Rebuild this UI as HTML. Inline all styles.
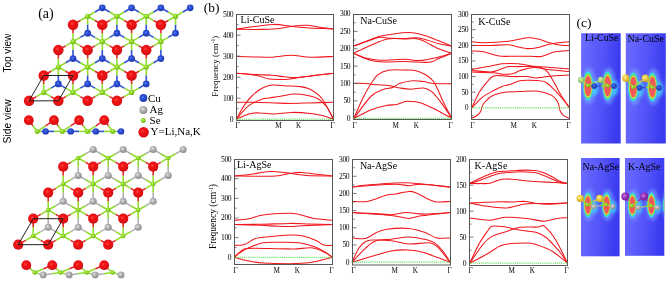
<!DOCTYPE html>
<html><head><meta charset="utf-8"><style>html,body{margin:0;padding:0;background:#fff;overflow:hidden}svg{display:block} text{opacity:0.999}</style></head>
<body><svg width="668" height="282" viewBox="0 0 668 282"><defs>
<radialGradient id="gR" cx="0.42" cy="0.4" r="0.62"><stop offset="0" stop-color="#ff4848"/><stop offset="0.3" stop-color="#f01414"/><stop offset="0.85" stop-color="#dc1014"/><stop offset="1" stop-color="#c00c10"/></radialGradient>
<radialGradient id="gB" cx="0.42" cy="0.4" r="0.62"><stop offset="0" stop-color="#5a7af0"/><stop offset="0.35" stop-color="#2c50d4"/><stop offset="1" stop-color="#2038b0"/></radialGradient>
<radialGradient id="gG" cx="0.4" cy="0.38" r="0.65"><stop offset="0" stop-color="#c8f070"/><stop offset="0.45" stop-color="#8ed824"/><stop offset="1" stop-color="#6cb414"/></radialGradient>
<radialGradient id="gA" cx="0.4" cy="0.38" r="0.65"><stop offset="0" stop-color="#e0e0e2"/><stop offset="0.45" stop-color="#b0b0b3"/><stop offset="1" stop-color="#8a8a8e"/></radialGradient>
<radialGradient id="gL" cx="0.4" cy="0.38" r="0.65"><stop offset="0" stop-color="#d8f0b8"/><stop offset="0.45" stop-color="#a8d880"/><stop offset="1" stop-color="#80b060"/></radialGradient>
<radialGradient id="gY" cx="0.4" cy="0.38" r="0.65"><stop offset="0" stop-color="#fff0a0"/><stop offset="0.45" stop-color="#f0cc40"/><stop offset="1" stop-color="#c8a020"/></radialGradient>
<radialGradient id="gP" cx="0.4" cy="0.38" r="0.65"><stop offset="0" stop-color="#d080e0"/><stop offset="0.45" stop-color="#9a30b8"/><stop offset="1" stop-color="#702090"/></radialGradient>
<linearGradient id="panel" x1="0" y1="0" x2="1" y2="0.15"><stop offset="0" stop-color="#6c6cff"/><stop offset="0.6" stop-color="#5252f8"/><stop offset="1" stop-color="#3a3af0"/></linearGradient>
<radialGradient id="blob" cx="0.5" cy="0.5" r="0.5">
 <stop offset="0" stop-color="#f25050"/><stop offset="0.46" stop-color="#f25050"/>
 <stop offset="0.53" stop-color="#f0a030"/><stop offset="0.58" stop-color="#c8e040"/>
 <stop offset="0.66" stop-color="#40e0a0"/><stop offset="0.76" stop-color="#30c8f8"/>
 <stop offset="0.88" stop-color="#5c9cff" stop-opacity="0.8"/><stop offset="1" stop-color="#5a6aff" stop-opacity="0"/>
</radialGradient>
<filter id="bl2" x="-1" y="-1" width="3" height="3"><feGaussianBlur stdDeviation="1.8"/></filter><filter id="bl1" x="-1" y="-1" width="3" height="3"><feGaussianBlur stdDeviation="0.55"/></filter>
<radialGradient id="tail" cx="0.5" cy="0.5" r="0.5">
 <stop offset="0" stop-color="#40c8ff" stop-opacity="0.9"/><stop offset="0.5" stop-color="#50a8ff" stop-opacity="0.6"/><stop offset="1" stop-color="#5a6aff" stop-opacity="0"/>
</radialGradient>
</defs><rect width="668" height="282" fill="#fff"/><line x1="87.65" y1="16.26" x2="94.97" y2="12.03" stroke="#92dd2c" stroke-width="1.60"/><line x1="94.97" y1="12.03" x2="102.30" y2="7.80" stroke="#2e52d4" stroke-width="1.60"/><line x1="87.65" y1="16.26" x2="87.65" y2="24.72" stroke="#92dd2c" stroke-width="1.60"/><line x1="87.65" y1="24.72" x2="87.65" y2="33.17" stroke="#2e52d4" stroke-width="1.60"/><line x1="87.65" y1="16.26" x2="80.32" y2="20.49" stroke="#92dd2c" stroke-width="1.60"/><line x1="80.32" y1="20.49" x2="73.00" y2="24.72" stroke="#e3262b" stroke-width="1.60"/><line x1="87.65" y1="16.26" x2="94.97" y2="20.49" stroke="#92dd2c" stroke-width="1.60"/><line x1="94.97" y1="20.49" x2="102.30" y2="24.72" stroke="#e3262b" stroke-width="1.60"/><line x1="116.95" y1="16.26" x2="124.27" y2="12.03" stroke="#92dd2c" stroke-width="1.60"/><line x1="124.27" y1="12.03" x2="131.60" y2="7.80" stroke="#2e52d4" stroke-width="1.60"/><line x1="116.95" y1="16.26" x2="109.62" y2="12.03" stroke="#92dd2c" stroke-width="1.60"/><line x1="109.62" y1="12.03" x2="102.30" y2="7.80" stroke="#2e52d4" stroke-width="1.60"/><line x1="116.95" y1="16.26" x2="116.95" y2="24.72" stroke="#92dd2c" stroke-width="1.60"/><line x1="116.95" y1="24.72" x2="116.95" y2="33.17" stroke="#2e52d4" stroke-width="1.60"/><line x1="116.95" y1="16.26" x2="109.62" y2="20.49" stroke="#92dd2c" stroke-width="1.60"/><line x1="109.62" y1="20.49" x2="102.30" y2="24.72" stroke="#e3262b" stroke-width="1.60"/><line x1="116.95" y1="16.26" x2="124.27" y2="20.49" stroke="#92dd2c" stroke-width="1.60"/><line x1="124.27" y1="20.49" x2="131.60" y2="24.72" stroke="#e3262b" stroke-width="1.60"/><line x1="146.25" y1="16.26" x2="153.57" y2="12.03" stroke="#92dd2c" stroke-width="1.60"/><line x1="153.57" y1="12.03" x2="160.90" y2="7.80" stroke="#2e52d4" stroke-width="1.60"/><line x1="146.25" y1="16.26" x2="138.93" y2="12.03" stroke="#92dd2c" stroke-width="1.60"/><line x1="138.93" y1="12.03" x2="131.60" y2="7.80" stroke="#2e52d4" stroke-width="1.60"/><line x1="146.25" y1="16.26" x2="146.25" y2="24.72" stroke="#92dd2c" stroke-width="1.60"/><line x1="146.25" y1="24.72" x2="146.25" y2="33.17" stroke="#2e52d4" stroke-width="1.60"/><line x1="146.25" y1="16.26" x2="138.93" y2="20.49" stroke="#92dd2c" stroke-width="1.60"/><line x1="138.93" y1="20.49" x2="131.60" y2="24.72" stroke="#e3262b" stroke-width="1.60"/><line x1="146.25" y1="16.26" x2="153.57" y2="20.49" stroke="#92dd2c" stroke-width="1.60"/><line x1="153.57" y1="20.49" x2="160.90" y2="24.72" stroke="#e3262b" stroke-width="1.60"/><line x1="175.55" y1="16.26" x2="182.88" y2="12.03" stroke="#92dd2c" stroke-width="1.60"/><line x1="182.88" y1="12.03" x2="190.20" y2="7.80" stroke="#2e52d4" stroke-width="1.60"/><line x1="175.55" y1="16.26" x2="168.22" y2="12.03" stroke="#92dd2c" stroke-width="1.60"/><line x1="168.22" y1="12.03" x2="160.90" y2="7.80" stroke="#2e52d4" stroke-width="1.60"/><line x1="175.55" y1="16.26" x2="175.55" y2="24.72" stroke="#92dd2c" stroke-width="1.60"/><line x1="175.55" y1="24.72" x2="175.55" y2="33.17" stroke="#2e52d4" stroke-width="1.60"/><line x1="175.55" y1="16.26" x2="168.22" y2="20.49" stroke="#92dd2c" stroke-width="1.60"/><line x1="168.22" y1="20.49" x2="160.90" y2="24.72" stroke="#e3262b" stroke-width="1.60"/><line x1="73.00" y1="41.63" x2="80.32" y2="37.40" stroke="#92dd2c" stroke-width="1.60"/><line x1="80.32" y1="37.40" x2="87.65" y2="33.17" stroke="#2e52d4" stroke-width="1.60"/><line x1="73.00" y1="41.63" x2="73.00" y2="50.09" stroke="#92dd2c" stroke-width="1.60"/><line x1="73.00" y1="50.09" x2="73.00" y2="58.55" stroke="#2e52d4" stroke-width="1.60"/><line x1="73.00" y1="41.63" x2="65.67" y2="45.86" stroke="#92dd2c" stroke-width="1.60"/><line x1="65.67" y1="45.86" x2="58.35" y2="50.09" stroke="#e3262b" stroke-width="1.60"/><line x1="73.00" y1="41.63" x2="80.32" y2="45.86" stroke="#92dd2c" stroke-width="1.60"/><line x1="80.32" y1="45.86" x2="87.65" y2="50.09" stroke="#e3262b" stroke-width="1.60"/><line x1="73.00" y1="41.63" x2="73.00" y2="33.17" stroke="#92dd2c" stroke-width="1.60"/><line x1="73.00" y1="33.17" x2="73.00" y2="24.72" stroke="#e3262b" stroke-width="1.60"/><line x1="102.30" y1="41.63" x2="109.62" y2="37.40" stroke="#92dd2c" stroke-width="1.60"/><line x1="109.62" y1="37.40" x2="116.95" y2="33.17" stroke="#2e52d4" stroke-width="1.60"/><line x1="102.30" y1="41.63" x2="94.97" y2="37.40" stroke="#92dd2c" stroke-width="1.60"/><line x1="94.97" y1="37.40" x2="87.65" y2="33.17" stroke="#2e52d4" stroke-width="1.60"/><line x1="102.30" y1="41.63" x2="102.30" y2="50.09" stroke="#92dd2c" stroke-width="1.60"/><line x1="102.30" y1="50.09" x2="102.30" y2="58.55" stroke="#2e52d4" stroke-width="1.60"/><line x1="102.30" y1="41.63" x2="94.97" y2="45.86" stroke="#92dd2c" stroke-width="1.60"/><line x1="94.97" y1="45.86" x2="87.65" y2="50.09" stroke="#e3262b" stroke-width="1.60"/><line x1="102.30" y1="41.63" x2="109.62" y2="45.86" stroke="#92dd2c" stroke-width="1.60"/><line x1="109.62" y1="45.86" x2="116.95" y2="50.09" stroke="#e3262b" stroke-width="1.60"/><line x1="102.30" y1="41.63" x2="102.30" y2="33.17" stroke="#92dd2c" stroke-width="1.60"/><line x1="102.30" y1="33.17" x2="102.30" y2="24.72" stroke="#e3262b" stroke-width="1.60"/><line x1="131.60" y1="41.63" x2="138.93" y2="37.40" stroke="#92dd2c" stroke-width="1.60"/><line x1="138.93" y1="37.40" x2="146.25" y2="33.17" stroke="#2e52d4" stroke-width="1.60"/><line x1="131.60" y1="41.63" x2="124.27" y2="37.40" stroke="#92dd2c" stroke-width="1.60"/><line x1="124.27" y1="37.40" x2="116.95" y2="33.17" stroke="#2e52d4" stroke-width="1.60"/><line x1="131.60" y1="41.63" x2="131.60" y2="50.09" stroke="#92dd2c" stroke-width="1.60"/><line x1="131.60" y1="50.09" x2="131.60" y2="58.55" stroke="#2e52d4" stroke-width="1.60"/><line x1="131.60" y1="41.63" x2="124.28" y2="45.86" stroke="#92dd2c" stroke-width="1.60"/><line x1="124.28" y1="45.86" x2="116.95" y2="50.09" stroke="#e3262b" stroke-width="1.60"/><line x1="131.60" y1="41.63" x2="138.92" y2="45.86" stroke="#92dd2c" stroke-width="1.60"/><line x1="138.92" y1="45.86" x2="146.25" y2="50.09" stroke="#e3262b" stroke-width="1.60"/><line x1="131.60" y1="41.63" x2="131.60" y2="33.17" stroke="#92dd2c" stroke-width="1.60"/><line x1="131.60" y1="33.17" x2="131.60" y2="24.72" stroke="#e3262b" stroke-width="1.60"/><line x1="160.90" y1="41.63" x2="168.22" y2="37.40" stroke="#92dd2c" stroke-width="1.60"/><line x1="168.22" y1="37.40" x2="175.55" y2="33.17" stroke="#2e52d4" stroke-width="1.60"/><line x1="160.90" y1="41.63" x2="153.57" y2="37.40" stroke="#92dd2c" stroke-width="1.60"/><line x1="153.57" y1="37.40" x2="146.25" y2="33.17" stroke="#2e52d4" stroke-width="1.60"/><line x1="160.90" y1="41.63" x2="160.90" y2="50.09" stroke="#92dd2c" stroke-width="1.60"/><line x1="160.90" y1="50.09" x2="160.90" y2="58.55" stroke="#2e52d4" stroke-width="1.60"/><line x1="160.90" y1="41.63" x2="153.57" y2="45.86" stroke="#92dd2c" stroke-width="1.60"/><line x1="153.57" y1="45.86" x2="146.25" y2="50.09" stroke="#e3262b" stroke-width="1.60"/><line x1="160.90" y1="41.63" x2="160.90" y2="33.17" stroke="#92dd2c" stroke-width="1.60"/><line x1="160.90" y1="33.17" x2="160.90" y2="24.72" stroke="#e3262b" stroke-width="1.60"/><line x1="58.35" y1="67.01" x2="65.67" y2="62.78" stroke="#92dd2c" stroke-width="1.60"/><line x1="65.67" y1="62.78" x2="73.00" y2="58.55" stroke="#2e52d4" stroke-width="1.60"/><line x1="58.35" y1="67.01" x2="58.35" y2="75.47" stroke="#92dd2c" stroke-width="1.60"/><line x1="58.35" y1="75.47" x2="58.35" y2="83.92" stroke="#2e52d4" stroke-width="1.60"/><line x1="58.35" y1="67.01" x2="51.03" y2="71.24" stroke="#92dd2c" stroke-width="1.60"/><line x1="51.03" y1="71.24" x2="43.70" y2="75.47" stroke="#e3262b" stroke-width="1.60"/><line x1="58.35" y1="67.01" x2="65.67" y2="71.24" stroke="#92dd2c" stroke-width="1.60"/><line x1="65.67" y1="71.24" x2="73.00" y2="75.47" stroke="#e3262b" stroke-width="1.60"/><line x1="58.35" y1="67.01" x2="58.35" y2="58.55" stroke="#92dd2c" stroke-width="1.60"/><line x1="58.35" y1="58.55" x2="58.35" y2="50.09" stroke="#e3262b" stroke-width="1.60"/><line x1="87.65" y1="67.01" x2="94.97" y2="62.78" stroke="#92dd2c" stroke-width="1.60"/><line x1="94.97" y1="62.78" x2="102.30" y2="58.55" stroke="#2e52d4" stroke-width="1.60"/><line x1="87.65" y1="67.01" x2="80.32" y2="62.78" stroke="#92dd2c" stroke-width="1.60"/><line x1="80.32" y1="62.78" x2="73.00" y2="58.55" stroke="#2e52d4" stroke-width="1.60"/><line x1="87.65" y1="67.01" x2="87.65" y2="75.47" stroke="#92dd2c" stroke-width="1.60"/><line x1="87.65" y1="75.47" x2="87.65" y2="83.92" stroke="#2e52d4" stroke-width="1.60"/><line x1="87.65" y1="67.01" x2="80.32" y2="71.24" stroke="#92dd2c" stroke-width="1.60"/><line x1="80.32" y1="71.24" x2="73.00" y2="75.47" stroke="#e3262b" stroke-width="1.60"/><line x1="87.65" y1="67.01" x2="94.97" y2="71.24" stroke="#92dd2c" stroke-width="1.60"/><line x1="94.97" y1="71.24" x2="102.30" y2="75.47" stroke="#e3262b" stroke-width="1.60"/><line x1="87.65" y1="67.01" x2="87.65" y2="58.55" stroke="#92dd2c" stroke-width="1.60"/><line x1="87.65" y1="58.55" x2="87.65" y2="50.09" stroke="#e3262b" stroke-width="1.60"/><line x1="116.95" y1="67.01" x2="124.27" y2="62.78" stroke="#92dd2c" stroke-width="1.60"/><line x1="124.27" y1="62.78" x2="131.60" y2="58.55" stroke="#2e52d4" stroke-width="1.60"/><line x1="116.95" y1="67.01" x2="109.62" y2="62.78" stroke="#92dd2c" stroke-width="1.60"/><line x1="109.62" y1="62.78" x2="102.30" y2="58.55" stroke="#2e52d4" stroke-width="1.60"/><line x1="116.95" y1="67.01" x2="116.95" y2="75.47" stroke="#92dd2c" stroke-width="1.60"/><line x1="116.95" y1="75.47" x2="116.95" y2="83.92" stroke="#2e52d4" stroke-width="1.60"/><line x1="116.95" y1="67.01" x2="109.62" y2="71.24" stroke="#92dd2c" stroke-width="1.60"/><line x1="109.62" y1="71.24" x2="102.30" y2="75.47" stroke="#e3262b" stroke-width="1.60"/><line x1="116.95" y1="67.01" x2="124.27" y2="71.24" stroke="#92dd2c" stroke-width="1.60"/><line x1="124.27" y1="71.24" x2="131.60" y2="75.47" stroke="#e3262b" stroke-width="1.60"/><line x1="116.95" y1="67.01" x2="116.95" y2="58.55" stroke="#92dd2c" stroke-width="1.60"/><line x1="116.95" y1="58.55" x2="116.95" y2="50.09" stroke="#e3262b" stroke-width="1.60"/><line x1="146.25" y1="67.01" x2="153.57" y2="62.78" stroke="#92dd2c" stroke-width="1.60"/><line x1="153.57" y1="62.78" x2="160.90" y2="58.55" stroke="#2e52d4" stroke-width="1.60"/><line x1="146.25" y1="67.01" x2="138.92" y2="62.78" stroke="#92dd2c" stroke-width="1.60"/><line x1="138.92" y1="62.78" x2="131.60" y2="58.55" stroke="#2e52d4" stroke-width="1.60"/><line x1="146.25" y1="67.01" x2="146.25" y2="75.47" stroke="#92dd2c" stroke-width="1.60"/><line x1="146.25" y1="75.47" x2="146.25" y2="83.92" stroke="#2e52d4" stroke-width="1.60"/><line x1="146.25" y1="67.01" x2="138.92" y2="71.24" stroke="#92dd2c" stroke-width="1.60"/><line x1="138.92" y1="71.24" x2="131.60" y2="75.47" stroke="#e3262b" stroke-width="1.60"/><line x1="146.25" y1="67.01" x2="146.25" y2="58.55" stroke="#92dd2c" stroke-width="1.60"/><line x1="146.25" y1="58.55" x2="146.25" y2="50.09" stroke="#e3262b" stroke-width="1.60"/><line x1="43.70" y1="92.38" x2="51.02" y2="88.15" stroke="#92dd2c" stroke-width="1.60"/><line x1="51.02" y1="88.15" x2="58.35" y2="83.92" stroke="#2e52d4" stroke-width="1.60"/><line x1="43.70" y1="92.38" x2="36.37" y2="96.61" stroke="#92dd2c" stroke-width="1.60"/><line x1="36.37" y1="96.61" x2="29.05" y2="100.84" stroke="#e3262b" stroke-width="1.60"/><line x1="43.70" y1="92.38" x2="51.02" y2="96.61" stroke="#92dd2c" stroke-width="1.60"/><line x1="51.02" y1="96.61" x2="58.35" y2="100.84" stroke="#e3262b" stroke-width="1.60"/><line x1="43.70" y1="92.38" x2="43.70" y2="83.92" stroke="#92dd2c" stroke-width="1.60"/><line x1="43.70" y1="83.92" x2="43.70" y2="75.47" stroke="#e3262b" stroke-width="1.60"/><line x1="73.00" y1="92.38" x2="80.32" y2="88.15" stroke="#92dd2c" stroke-width="1.60"/><line x1="80.32" y1="88.15" x2="87.65" y2="83.92" stroke="#2e52d4" stroke-width="1.60"/><line x1="73.00" y1="92.38" x2="65.67" y2="88.15" stroke="#92dd2c" stroke-width="1.60"/><line x1="65.67" y1="88.15" x2="58.35" y2="83.92" stroke="#2e52d4" stroke-width="1.60"/><line x1="73.00" y1="92.38" x2="65.67" y2="96.61" stroke="#92dd2c" stroke-width="1.60"/><line x1="65.67" y1="96.61" x2="58.35" y2="100.84" stroke="#e3262b" stroke-width="1.60"/><line x1="73.00" y1="92.38" x2="80.32" y2="96.61" stroke="#92dd2c" stroke-width="1.60"/><line x1="80.32" y1="96.61" x2="87.65" y2="100.84" stroke="#e3262b" stroke-width="1.60"/><line x1="73.00" y1="92.38" x2="73.00" y2="83.92" stroke="#92dd2c" stroke-width="1.60"/><line x1="73.00" y1="83.92" x2="73.00" y2="75.47" stroke="#e3262b" stroke-width="1.60"/><line x1="102.30" y1="92.38" x2="109.62" y2="88.15" stroke="#92dd2c" stroke-width="1.60"/><line x1="109.62" y1="88.15" x2="116.95" y2="83.92" stroke="#2e52d4" stroke-width="1.60"/><line x1="102.30" y1="92.38" x2="94.97" y2="88.15" stroke="#92dd2c" stroke-width="1.60"/><line x1="94.97" y1="88.15" x2="87.65" y2="83.92" stroke="#2e52d4" stroke-width="1.60"/><line x1="102.30" y1="92.38" x2="94.97" y2="96.61" stroke="#92dd2c" stroke-width="1.60"/><line x1="94.97" y1="96.61" x2="87.65" y2="100.84" stroke="#e3262b" stroke-width="1.60"/><line x1="102.30" y1="92.38" x2="109.62" y2="96.61" stroke="#92dd2c" stroke-width="1.60"/><line x1="109.62" y1="96.61" x2="116.95" y2="100.84" stroke="#e3262b" stroke-width="1.60"/><line x1="102.30" y1="92.38" x2="102.30" y2="83.92" stroke="#92dd2c" stroke-width="1.60"/><line x1="102.30" y1="83.92" x2="102.30" y2="75.47" stroke="#e3262b" stroke-width="1.60"/><line x1="131.60" y1="92.38" x2="138.93" y2="88.15" stroke="#92dd2c" stroke-width="1.60"/><line x1="138.93" y1="88.15" x2="146.25" y2="83.92" stroke="#2e52d4" stroke-width="1.60"/><line x1="131.60" y1="92.38" x2="124.28" y2="88.15" stroke="#92dd2c" stroke-width="1.60"/><line x1="124.28" y1="88.15" x2="116.95" y2="83.92" stroke="#2e52d4" stroke-width="1.60"/><line x1="131.60" y1="92.38" x2="124.28" y2="96.61" stroke="#92dd2c" stroke-width="1.60"/><line x1="124.28" y1="96.61" x2="116.95" y2="100.84" stroke="#e3262b" stroke-width="1.60"/><line x1="131.60" y1="92.38" x2="131.60" y2="83.92" stroke="#92dd2c" stroke-width="1.60"/><line x1="131.60" y1="83.92" x2="131.60" y2="75.47" stroke="#e3262b" stroke-width="1.60"/><circle cx="102.30" cy="7.80" r="3.35" fill="url(#gB)"/><circle cx="131.60" cy="7.80" r="3.35" fill="url(#gB)"/><circle cx="160.90" cy="7.80" r="3.35" fill="url(#gB)"/><circle cx="190.20" cy="7.80" r="3.35" fill="url(#gB)"/><circle cx="87.65" cy="33.17" r="3.35" fill="url(#gB)"/><circle cx="116.95" cy="33.17" r="3.35" fill="url(#gB)"/><circle cx="146.25" cy="33.17" r="3.35" fill="url(#gB)"/><circle cx="175.55" cy="33.17" r="3.35" fill="url(#gB)"/><circle cx="73.00" cy="58.55" r="3.35" fill="url(#gB)"/><circle cx="102.30" cy="58.55" r="3.35" fill="url(#gB)"/><circle cx="131.60" cy="58.55" r="3.35" fill="url(#gB)"/><circle cx="160.90" cy="58.55" r="3.35" fill="url(#gB)"/><circle cx="58.35" cy="83.92" r="3.35" fill="url(#gB)"/><circle cx="87.65" cy="83.92" r="3.35" fill="url(#gB)"/><circle cx="116.95" cy="83.92" r="3.35" fill="url(#gB)"/><circle cx="146.25" cy="83.92" r="3.35" fill="url(#gB)"/><circle cx="87.65" cy="16.26" r="2.60" fill="url(#gG)"/><circle cx="116.95" cy="16.26" r="2.60" fill="url(#gG)"/><circle cx="146.25" cy="16.26" r="2.60" fill="url(#gG)"/><circle cx="175.55" cy="16.26" r="2.60" fill="url(#gG)"/><circle cx="73.00" cy="41.63" r="2.60" fill="url(#gG)"/><circle cx="102.30" cy="41.63" r="2.60" fill="url(#gG)"/><circle cx="131.60" cy="41.63" r="2.60" fill="url(#gG)"/><circle cx="160.90" cy="41.63" r="2.60" fill="url(#gG)"/><circle cx="58.35" cy="67.01" r="2.60" fill="url(#gG)"/><circle cx="87.65" cy="67.01" r="2.60" fill="url(#gG)"/><circle cx="116.95" cy="67.01" r="2.60" fill="url(#gG)"/><circle cx="146.25" cy="67.01" r="2.60" fill="url(#gG)"/><circle cx="43.70" cy="92.38" r="2.60" fill="url(#gG)"/><circle cx="73.00" cy="92.38" r="2.60" fill="url(#gG)"/><circle cx="102.30" cy="92.38" r="2.60" fill="url(#gG)"/><circle cx="131.60" cy="92.38" r="2.60" fill="url(#gG)"/><circle cx="73.00" cy="24.72" r="5.25" fill="url(#gR)"/><circle cx="102.30" cy="24.72" r="5.25" fill="url(#gR)"/><circle cx="131.60" cy="24.72" r="5.25" fill="url(#gR)"/><circle cx="160.90" cy="24.72" r="5.25" fill="url(#gR)"/><circle cx="58.35" cy="50.09" r="5.25" fill="url(#gR)"/><circle cx="87.65" cy="50.09" r="5.25" fill="url(#gR)"/><circle cx="116.95" cy="50.09" r="5.25" fill="url(#gR)"/><circle cx="146.25" cy="50.09" r="5.25" fill="url(#gR)"/><circle cx="43.70" cy="75.47" r="5.25" fill="url(#gR)"/><circle cx="73.00" cy="75.47" r="5.25" fill="url(#gR)"/><circle cx="102.30" cy="75.47" r="5.25" fill="url(#gR)"/><circle cx="131.60" cy="75.47" r="5.25" fill="url(#gR)"/><circle cx="29.05" cy="100.84" r="5.25" fill="url(#gR)"/><circle cx="58.35" cy="100.84" r="5.25" fill="url(#gR)"/><circle cx="87.65" cy="100.84" r="5.25" fill="url(#gR)"/><circle cx="116.95" cy="100.84" r="5.25" fill="url(#gR)"/><polygon points="43.70,75.47 73.00,75.47 58.35,100.84 29.05,100.84" fill="none" stroke="#151515" stroke-width="0.95"/>
<line x1="78.20" y1="158.06" x2="85.70" y2="153.73" stroke="#92dd2c" stroke-width="1.60"/><line x1="85.70" y1="153.73" x2="93.20" y2="149.40" stroke="#b1b1b4" stroke-width="1.60"/><line x1="78.20" y1="158.06" x2="78.20" y2="166.72" stroke="#92dd2c" stroke-width="1.60"/><line x1="78.20" y1="166.72" x2="78.20" y2="175.38" stroke="#b1b1b4" stroke-width="1.60"/><line x1="78.20" y1="158.06" x2="70.70" y2="162.39" stroke="#92dd2c" stroke-width="1.60"/><line x1="70.70" y1="162.39" x2="63.20" y2="166.72" stroke="#e3262b" stroke-width="1.60"/><line x1="78.20" y1="158.06" x2="85.70" y2="162.39" stroke="#92dd2c" stroke-width="1.60"/><line x1="85.70" y1="162.39" x2="93.20" y2="166.72" stroke="#e3262b" stroke-width="1.60"/><line x1="108.20" y1="158.06" x2="115.70" y2="153.73" stroke="#92dd2c" stroke-width="1.60"/><line x1="115.70" y1="153.73" x2="123.20" y2="149.40" stroke="#b1b1b4" stroke-width="1.60"/><line x1="108.20" y1="158.06" x2="100.70" y2="153.73" stroke="#92dd2c" stroke-width="1.60"/><line x1="100.70" y1="153.73" x2="93.20" y2="149.40" stroke="#b1b1b4" stroke-width="1.60"/><line x1="108.20" y1="158.06" x2="108.20" y2="166.72" stroke="#92dd2c" stroke-width="1.60"/><line x1="108.20" y1="166.72" x2="108.20" y2="175.38" stroke="#b1b1b4" stroke-width="1.60"/><line x1="108.20" y1="158.06" x2="100.70" y2="162.39" stroke="#92dd2c" stroke-width="1.60"/><line x1="100.70" y1="162.39" x2="93.20" y2="166.72" stroke="#e3262b" stroke-width="1.60"/><line x1="108.20" y1="158.06" x2="115.70" y2="162.39" stroke="#92dd2c" stroke-width="1.60"/><line x1="115.70" y1="162.39" x2="123.20" y2="166.72" stroke="#e3262b" stroke-width="1.60"/><line x1="138.20" y1="158.06" x2="145.70" y2="153.73" stroke="#92dd2c" stroke-width="1.60"/><line x1="145.70" y1="153.73" x2="153.20" y2="149.40" stroke="#b1b1b4" stroke-width="1.60"/><line x1="138.20" y1="158.06" x2="130.70" y2="153.73" stroke="#92dd2c" stroke-width="1.60"/><line x1="130.70" y1="153.73" x2="123.20" y2="149.40" stroke="#b1b1b4" stroke-width="1.60"/><line x1="138.20" y1="158.06" x2="138.20" y2="166.72" stroke="#92dd2c" stroke-width="1.60"/><line x1="138.20" y1="166.72" x2="138.20" y2="175.38" stroke="#b1b1b4" stroke-width="1.60"/><line x1="138.20" y1="158.06" x2="130.70" y2="162.39" stroke="#92dd2c" stroke-width="1.60"/><line x1="130.70" y1="162.39" x2="123.20" y2="166.72" stroke="#e3262b" stroke-width="1.60"/><line x1="138.20" y1="158.06" x2="145.70" y2="162.39" stroke="#92dd2c" stroke-width="1.60"/><line x1="145.70" y1="162.39" x2="153.20" y2="166.72" stroke="#e3262b" stroke-width="1.60"/><line x1="168.20" y1="158.06" x2="175.70" y2="153.73" stroke="#92dd2c" stroke-width="1.60"/><line x1="175.70" y1="153.73" x2="183.20" y2="149.40" stroke="#b1b1b4" stroke-width="1.60"/><line x1="168.20" y1="158.06" x2="160.70" y2="153.73" stroke="#92dd2c" stroke-width="1.60"/><line x1="160.70" y1="153.73" x2="153.20" y2="149.40" stroke="#b1b1b4" stroke-width="1.60"/><line x1="168.20" y1="158.06" x2="168.20" y2="166.72" stroke="#92dd2c" stroke-width="1.60"/><line x1="168.20" y1="166.72" x2="168.20" y2="175.38" stroke="#b1b1b4" stroke-width="1.60"/><line x1="168.20" y1="158.06" x2="160.70" y2="162.39" stroke="#92dd2c" stroke-width="1.60"/><line x1="160.70" y1="162.39" x2="153.20" y2="166.72" stroke="#e3262b" stroke-width="1.60"/><line x1="63.20" y1="184.04" x2="70.70" y2="179.71" stroke="#92dd2c" stroke-width="1.60"/><line x1="70.70" y1="179.71" x2="78.20" y2="175.38" stroke="#b1b1b4" stroke-width="1.60"/><line x1="63.20" y1="184.04" x2="63.20" y2="192.70" stroke="#92dd2c" stroke-width="1.60"/><line x1="63.20" y1="192.70" x2="63.20" y2="201.36" stroke="#b1b1b4" stroke-width="1.60"/><line x1="63.20" y1="184.04" x2="55.70" y2="188.37" stroke="#92dd2c" stroke-width="1.60"/><line x1="55.70" y1="188.37" x2="48.20" y2="192.70" stroke="#e3262b" stroke-width="1.60"/><line x1="63.20" y1="184.04" x2="70.70" y2="188.37" stroke="#92dd2c" stroke-width="1.60"/><line x1="70.70" y1="188.37" x2="78.20" y2="192.70" stroke="#e3262b" stroke-width="1.60"/><line x1="63.20" y1="184.04" x2="63.20" y2="175.38" stroke="#92dd2c" stroke-width="1.60"/><line x1="63.20" y1="175.38" x2="63.20" y2="166.72" stroke="#e3262b" stroke-width="1.60"/><line x1="93.20" y1="184.04" x2="100.70" y2="179.71" stroke="#92dd2c" stroke-width="1.60"/><line x1="100.70" y1="179.71" x2="108.20" y2="175.38" stroke="#b1b1b4" stroke-width="1.60"/><line x1="93.20" y1="184.04" x2="85.70" y2="179.71" stroke="#92dd2c" stroke-width="1.60"/><line x1="85.70" y1="179.71" x2="78.20" y2="175.38" stroke="#b1b1b4" stroke-width="1.60"/><line x1="93.20" y1="184.04" x2="93.20" y2="192.70" stroke="#92dd2c" stroke-width="1.60"/><line x1="93.20" y1="192.70" x2="93.20" y2="201.36" stroke="#b1b1b4" stroke-width="1.60"/><line x1="93.20" y1="184.04" x2="85.70" y2="188.37" stroke="#92dd2c" stroke-width="1.60"/><line x1="85.70" y1="188.37" x2="78.20" y2="192.70" stroke="#e3262b" stroke-width="1.60"/><line x1="93.20" y1="184.04" x2="100.70" y2="188.37" stroke="#92dd2c" stroke-width="1.60"/><line x1="100.70" y1="188.37" x2="108.20" y2="192.70" stroke="#e3262b" stroke-width="1.60"/><line x1="93.20" y1="184.04" x2="93.20" y2="175.38" stroke="#92dd2c" stroke-width="1.60"/><line x1="93.20" y1="175.38" x2="93.20" y2="166.72" stroke="#e3262b" stroke-width="1.60"/><line x1="123.20" y1="184.04" x2="130.70" y2="179.71" stroke="#92dd2c" stroke-width="1.60"/><line x1="130.70" y1="179.71" x2="138.20" y2="175.38" stroke="#b1b1b4" stroke-width="1.60"/><line x1="123.20" y1="184.04" x2="115.70" y2="179.71" stroke="#92dd2c" stroke-width="1.60"/><line x1="115.70" y1="179.71" x2="108.20" y2="175.38" stroke="#b1b1b4" stroke-width="1.60"/><line x1="123.20" y1="184.04" x2="123.20" y2="192.70" stroke="#92dd2c" stroke-width="1.60"/><line x1="123.20" y1="192.70" x2="123.20" y2="201.36" stroke="#b1b1b4" stroke-width="1.60"/><line x1="123.20" y1="184.04" x2="115.70" y2="188.37" stroke="#92dd2c" stroke-width="1.60"/><line x1="115.70" y1="188.37" x2="108.20" y2="192.70" stroke="#e3262b" stroke-width="1.60"/><line x1="123.20" y1="184.04" x2="130.70" y2="188.37" stroke="#92dd2c" stroke-width="1.60"/><line x1="130.70" y1="188.37" x2="138.20" y2="192.70" stroke="#e3262b" stroke-width="1.60"/><line x1="123.20" y1="184.04" x2="123.20" y2="175.38" stroke="#92dd2c" stroke-width="1.60"/><line x1="123.20" y1="175.38" x2="123.20" y2="166.72" stroke="#e3262b" stroke-width="1.60"/><line x1="153.20" y1="184.04" x2="160.70" y2="179.71" stroke="#92dd2c" stroke-width="1.60"/><line x1="160.70" y1="179.71" x2="168.20" y2="175.38" stroke="#b1b1b4" stroke-width="1.60"/><line x1="153.20" y1="184.04" x2="145.70" y2="179.71" stroke="#92dd2c" stroke-width="1.60"/><line x1="145.70" y1="179.71" x2="138.20" y2="175.38" stroke="#b1b1b4" stroke-width="1.60"/><line x1="153.20" y1="184.04" x2="153.20" y2="192.70" stroke="#92dd2c" stroke-width="1.60"/><line x1="153.20" y1="192.70" x2="153.20" y2="201.36" stroke="#b1b1b4" stroke-width="1.60"/><line x1="153.20" y1="184.04" x2="145.70" y2="188.37" stroke="#92dd2c" stroke-width="1.60"/><line x1="145.70" y1="188.37" x2="138.20" y2="192.70" stroke="#e3262b" stroke-width="1.60"/><line x1="153.20" y1="184.04" x2="153.20" y2="175.38" stroke="#92dd2c" stroke-width="1.60"/><line x1="153.20" y1="175.38" x2="153.20" y2="166.72" stroke="#e3262b" stroke-width="1.60"/><line x1="48.20" y1="210.02" x2="55.70" y2="205.69" stroke="#92dd2c" stroke-width="1.60"/><line x1="55.70" y1="205.69" x2="63.20" y2="201.36" stroke="#b1b1b4" stroke-width="1.60"/><line x1="48.20" y1="210.02" x2="48.20" y2="218.68" stroke="#92dd2c" stroke-width="1.60"/><line x1="48.20" y1="218.68" x2="48.20" y2="227.34" stroke="#b1b1b4" stroke-width="1.60"/><line x1="48.20" y1="210.02" x2="40.70" y2="214.35" stroke="#92dd2c" stroke-width="1.60"/><line x1="40.70" y1="214.35" x2="33.20" y2="218.68" stroke="#e3262b" stroke-width="1.60"/><line x1="48.20" y1="210.02" x2="55.70" y2="214.35" stroke="#92dd2c" stroke-width="1.60"/><line x1="55.70" y1="214.35" x2="63.20" y2="218.68" stroke="#e3262b" stroke-width="1.60"/><line x1="48.20" y1="210.02" x2="48.20" y2="201.36" stroke="#92dd2c" stroke-width="1.60"/><line x1="48.20" y1="201.36" x2="48.20" y2="192.70" stroke="#e3262b" stroke-width="1.60"/><line x1="78.20" y1="210.02" x2="85.70" y2="205.69" stroke="#92dd2c" stroke-width="1.60"/><line x1="85.70" y1="205.69" x2="93.20" y2="201.36" stroke="#b1b1b4" stroke-width="1.60"/><line x1="78.20" y1="210.02" x2="70.70" y2="205.69" stroke="#92dd2c" stroke-width="1.60"/><line x1="70.70" y1="205.69" x2="63.20" y2="201.36" stroke="#b1b1b4" stroke-width="1.60"/><line x1="78.20" y1="210.02" x2="78.20" y2="218.68" stroke="#92dd2c" stroke-width="1.60"/><line x1="78.20" y1="218.68" x2="78.20" y2="227.34" stroke="#b1b1b4" stroke-width="1.60"/><line x1="78.20" y1="210.02" x2="70.70" y2="214.35" stroke="#92dd2c" stroke-width="1.60"/><line x1="70.70" y1="214.35" x2="63.20" y2="218.68" stroke="#e3262b" stroke-width="1.60"/><line x1="78.20" y1="210.02" x2="85.70" y2="214.35" stroke="#92dd2c" stroke-width="1.60"/><line x1="85.70" y1="214.35" x2="93.20" y2="218.68" stroke="#e3262b" stroke-width="1.60"/><line x1="78.20" y1="210.02" x2="78.20" y2="201.36" stroke="#92dd2c" stroke-width="1.60"/><line x1="78.20" y1="201.36" x2="78.20" y2="192.70" stroke="#e3262b" stroke-width="1.60"/><line x1="108.20" y1="210.02" x2="115.70" y2="205.69" stroke="#92dd2c" stroke-width="1.60"/><line x1="115.70" y1="205.69" x2="123.20" y2="201.36" stroke="#b1b1b4" stroke-width="1.60"/><line x1="108.20" y1="210.02" x2="100.70" y2="205.69" stroke="#92dd2c" stroke-width="1.60"/><line x1="100.70" y1="205.69" x2="93.20" y2="201.36" stroke="#b1b1b4" stroke-width="1.60"/><line x1="108.20" y1="210.02" x2="108.20" y2="218.68" stroke="#92dd2c" stroke-width="1.60"/><line x1="108.20" y1="218.68" x2="108.20" y2="227.34" stroke="#b1b1b4" stroke-width="1.60"/><line x1="108.20" y1="210.02" x2="100.70" y2="214.35" stroke="#92dd2c" stroke-width="1.60"/><line x1="100.70" y1="214.35" x2="93.20" y2="218.68" stroke="#e3262b" stroke-width="1.60"/><line x1="108.20" y1="210.02" x2="115.70" y2="214.35" stroke="#92dd2c" stroke-width="1.60"/><line x1="115.70" y1="214.35" x2="123.20" y2="218.68" stroke="#e3262b" stroke-width="1.60"/><line x1="108.20" y1="210.02" x2="108.20" y2="201.36" stroke="#92dd2c" stroke-width="1.60"/><line x1="108.20" y1="201.36" x2="108.20" y2="192.70" stroke="#e3262b" stroke-width="1.60"/><line x1="138.20" y1="210.02" x2="145.70" y2="205.69" stroke="#92dd2c" stroke-width="1.60"/><line x1="145.70" y1="205.69" x2="153.20" y2="201.36" stroke="#b1b1b4" stroke-width="1.60"/><line x1="138.20" y1="210.02" x2="130.70" y2="205.69" stroke="#92dd2c" stroke-width="1.60"/><line x1="130.70" y1="205.69" x2="123.20" y2="201.36" stroke="#b1b1b4" stroke-width="1.60"/><line x1="138.20" y1="210.02" x2="138.20" y2="218.68" stroke="#92dd2c" stroke-width="1.60"/><line x1="138.20" y1="218.68" x2="138.20" y2="227.34" stroke="#b1b1b4" stroke-width="1.60"/><line x1="138.20" y1="210.02" x2="130.70" y2="214.35" stroke="#92dd2c" stroke-width="1.60"/><line x1="130.70" y1="214.35" x2="123.20" y2="218.68" stroke="#e3262b" stroke-width="1.60"/><line x1="138.20" y1="210.02" x2="138.20" y2="201.36" stroke="#92dd2c" stroke-width="1.60"/><line x1="138.20" y1="201.36" x2="138.20" y2="192.70" stroke="#e3262b" stroke-width="1.60"/><line x1="33.20" y1="236.00" x2="40.70" y2="231.67" stroke="#92dd2c" stroke-width="1.60"/><line x1="40.70" y1="231.67" x2="48.20" y2="227.34" stroke="#b1b1b4" stroke-width="1.60"/><line x1="33.20" y1="236.00" x2="25.70" y2="240.33" stroke="#92dd2c" stroke-width="1.60"/><line x1="25.70" y1="240.33" x2="18.20" y2="244.66" stroke="#e3262b" stroke-width="1.60"/><line x1="33.20" y1="236.00" x2="40.70" y2="240.33" stroke="#92dd2c" stroke-width="1.60"/><line x1="40.70" y1="240.33" x2="48.20" y2="244.66" stroke="#e3262b" stroke-width="1.60"/><line x1="33.20" y1="236.00" x2="33.20" y2="227.34" stroke="#92dd2c" stroke-width="1.60"/><line x1="33.20" y1="227.34" x2="33.20" y2="218.68" stroke="#e3262b" stroke-width="1.60"/><line x1="63.20" y1="236.00" x2="70.70" y2="231.67" stroke="#92dd2c" stroke-width="1.60"/><line x1="70.70" y1="231.67" x2="78.20" y2="227.34" stroke="#b1b1b4" stroke-width="1.60"/><line x1="63.20" y1="236.00" x2="55.70" y2="231.67" stroke="#92dd2c" stroke-width="1.60"/><line x1="55.70" y1="231.67" x2="48.20" y2="227.34" stroke="#b1b1b4" stroke-width="1.60"/><line x1="63.20" y1="236.00" x2="55.70" y2="240.33" stroke="#92dd2c" stroke-width="1.60"/><line x1="55.70" y1="240.33" x2="48.20" y2="244.66" stroke="#e3262b" stroke-width="1.60"/><line x1="63.20" y1="236.00" x2="70.70" y2="240.33" stroke="#92dd2c" stroke-width="1.60"/><line x1="70.70" y1="240.33" x2="78.20" y2="244.66" stroke="#e3262b" stroke-width="1.60"/><line x1="63.20" y1="236.00" x2="63.20" y2="227.34" stroke="#92dd2c" stroke-width="1.60"/><line x1="63.20" y1="227.34" x2="63.20" y2="218.68" stroke="#e3262b" stroke-width="1.60"/><line x1="93.20" y1="236.00" x2="100.70" y2="231.67" stroke="#92dd2c" stroke-width="1.60"/><line x1="100.70" y1="231.67" x2="108.20" y2="227.34" stroke="#b1b1b4" stroke-width="1.60"/><line x1="93.20" y1="236.00" x2="85.70" y2="231.67" stroke="#92dd2c" stroke-width="1.60"/><line x1="85.70" y1="231.67" x2="78.20" y2="227.34" stroke="#b1b1b4" stroke-width="1.60"/><line x1="93.20" y1="236.00" x2="85.70" y2="240.33" stroke="#92dd2c" stroke-width="1.60"/><line x1="85.70" y1="240.33" x2="78.20" y2="244.66" stroke="#e3262b" stroke-width="1.60"/><line x1="93.20" y1="236.00" x2="100.70" y2="240.33" stroke="#92dd2c" stroke-width="1.60"/><line x1="100.70" y1="240.33" x2="108.20" y2="244.66" stroke="#e3262b" stroke-width="1.60"/><line x1="93.20" y1="236.00" x2="93.20" y2="227.34" stroke="#92dd2c" stroke-width="1.60"/><line x1="93.20" y1="227.34" x2="93.20" y2="218.68" stroke="#e3262b" stroke-width="1.60"/><line x1="123.20" y1="236.00" x2="130.70" y2="231.67" stroke="#92dd2c" stroke-width="1.60"/><line x1="130.70" y1="231.67" x2="138.20" y2="227.34" stroke="#b1b1b4" stroke-width="1.60"/><line x1="123.20" y1="236.00" x2="115.70" y2="231.67" stroke="#92dd2c" stroke-width="1.60"/><line x1="115.70" y1="231.67" x2="108.20" y2="227.34" stroke="#b1b1b4" stroke-width="1.60"/><line x1="123.20" y1="236.00" x2="115.70" y2="240.33" stroke="#92dd2c" stroke-width="1.60"/><line x1="115.70" y1="240.33" x2="108.20" y2="244.66" stroke="#e3262b" stroke-width="1.60"/><line x1="123.20" y1="236.00" x2="123.20" y2="227.34" stroke="#92dd2c" stroke-width="1.60"/><line x1="123.20" y1="227.34" x2="123.20" y2="218.68" stroke="#e3262b" stroke-width="1.60"/><circle cx="93.20" cy="149.40" r="3.50" fill="url(#gA)"/><circle cx="123.20" cy="149.40" r="3.50" fill="url(#gA)"/><circle cx="153.20" cy="149.40" r="3.50" fill="url(#gA)"/><circle cx="183.20" cy="149.40" r="3.50" fill="url(#gA)"/><circle cx="78.20" cy="175.38" r="3.50" fill="url(#gA)"/><circle cx="108.20" cy="175.38" r="3.50" fill="url(#gA)"/><circle cx="138.20" cy="175.38" r="3.50" fill="url(#gA)"/><circle cx="168.20" cy="175.38" r="3.50" fill="url(#gA)"/><circle cx="63.20" cy="201.36" r="3.50" fill="url(#gA)"/><circle cx="93.20" cy="201.36" r="3.50" fill="url(#gA)"/><circle cx="123.20" cy="201.36" r="3.50" fill="url(#gA)"/><circle cx="153.20" cy="201.36" r="3.50" fill="url(#gA)"/><circle cx="48.20" cy="227.34" r="3.50" fill="url(#gA)"/><circle cx="78.20" cy="227.34" r="3.50" fill="url(#gA)"/><circle cx="108.20" cy="227.34" r="3.50" fill="url(#gA)"/><circle cx="138.20" cy="227.34" r="3.50" fill="url(#gA)"/><circle cx="78.20" cy="158.06" r="2.30" fill="url(#gG)"/><circle cx="108.20" cy="158.06" r="2.30" fill="url(#gG)"/><circle cx="138.20" cy="158.06" r="2.30" fill="url(#gG)"/><circle cx="168.20" cy="158.06" r="2.30" fill="url(#gG)"/><circle cx="63.20" cy="184.04" r="2.30" fill="url(#gG)"/><circle cx="93.20" cy="184.04" r="2.30" fill="url(#gG)"/><circle cx="123.20" cy="184.04" r="2.30" fill="url(#gG)"/><circle cx="153.20" cy="184.04" r="2.30" fill="url(#gG)"/><circle cx="48.20" cy="210.02" r="2.30" fill="url(#gG)"/><circle cx="78.20" cy="210.02" r="2.30" fill="url(#gG)"/><circle cx="108.20" cy="210.02" r="2.30" fill="url(#gG)"/><circle cx="138.20" cy="210.02" r="2.30" fill="url(#gG)"/><circle cx="33.20" cy="236.00" r="2.30" fill="url(#gG)"/><circle cx="63.20" cy="236.00" r="2.30" fill="url(#gG)"/><circle cx="93.20" cy="236.00" r="2.30" fill="url(#gG)"/><circle cx="123.20" cy="236.00" r="2.30" fill="url(#gG)"/><circle cx="63.20" cy="166.72" r="5.10" fill="url(#gR)"/><circle cx="93.20" cy="166.72" r="5.10" fill="url(#gR)"/><circle cx="123.20" cy="166.72" r="5.10" fill="url(#gR)"/><circle cx="153.20" cy="166.72" r="5.10" fill="url(#gR)"/><circle cx="48.20" cy="192.70" r="5.10" fill="url(#gR)"/><circle cx="78.20" cy="192.70" r="5.10" fill="url(#gR)"/><circle cx="108.20" cy="192.70" r="5.10" fill="url(#gR)"/><circle cx="138.20" cy="192.70" r="5.10" fill="url(#gR)"/><circle cx="33.20" cy="218.68" r="5.10" fill="url(#gR)"/><circle cx="63.20" cy="218.68" r="5.10" fill="url(#gR)"/><circle cx="93.20" cy="218.68" r="5.10" fill="url(#gR)"/><circle cx="123.20" cy="218.68" r="5.10" fill="url(#gR)"/><circle cx="18.20" cy="244.66" r="5.10" fill="url(#gR)"/><circle cx="48.20" cy="244.66" r="5.10" fill="url(#gR)"/><circle cx="78.20" cy="244.66" r="5.10" fill="url(#gR)"/><circle cx="108.20" cy="244.66" r="5.10" fill="url(#gR)"/><polygon points="33.20,218.68 63.20,218.68 48.20,244.66 18.20,244.66" fill="none" stroke="#151515" stroke-width="0.95"/>
<line x1="28.80" y1="120.20" x2="33.00" y2="125.80" stroke="#e3262b" stroke-width="1.60"/><line x1="33.00" y1="125.80" x2="37.20" y2="131.40" stroke="#92dd2c" stroke-width="1.60"/><line x1="37.20" y1="131.40" x2="45.58" y2="125.80" stroke="#92dd2c" stroke-width="1.60"/><line x1="45.58" y1="125.80" x2="53.95" y2="120.20" stroke="#e3262b" stroke-width="1.60"/><line x1="37.20" y1="131.40" x2="41.40" y2="131.40" stroke="#92dd2c" stroke-width="1.60"/><line x1="41.40" y1="131.40" x2="45.60" y2="131.40" stroke="#2e52d4" stroke-width="1.60"/><line x1="45.60" y1="131.40" x2="53.98" y2="131.40" stroke="#2e52d4" stroke-width="1.60"/><line x1="53.98" y1="131.40" x2="62.35" y2="131.40" stroke="#92dd2c" stroke-width="1.60"/><line x1="53.95" y1="120.20" x2="58.15" y2="125.80" stroke="#e3262b" stroke-width="1.60"/><line x1="58.15" y1="125.80" x2="62.35" y2="131.40" stroke="#92dd2c" stroke-width="1.60"/><line x1="62.35" y1="131.40" x2="70.72" y2="125.80" stroke="#92dd2c" stroke-width="1.60"/><line x1="70.72" y1="125.80" x2="79.10" y2="120.20" stroke="#e3262b" stroke-width="1.60"/><line x1="62.35" y1="131.40" x2="66.55" y2="131.40" stroke="#92dd2c" stroke-width="1.60"/><line x1="66.55" y1="131.40" x2="70.75" y2="131.40" stroke="#2e52d4" stroke-width="1.60"/><line x1="70.75" y1="131.40" x2="79.12" y2="131.40" stroke="#2e52d4" stroke-width="1.60"/><line x1="79.12" y1="131.40" x2="87.50" y2="131.40" stroke="#92dd2c" stroke-width="1.60"/><line x1="79.10" y1="120.20" x2="83.30" y2="125.80" stroke="#e3262b" stroke-width="1.60"/><line x1="83.30" y1="125.80" x2="87.50" y2="131.40" stroke="#92dd2c" stroke-width="1.60"/><line x1="87.50" y1="131.40" x2="95.88" y2="125.80" stroke="#92dd2c" stroke-width="1.60"/><line x1="95.88" y1="125.80" x2="104.25" y2="120.20" stroke="#e3262b" stroke-width="1.60"/><line x1="87.50" y1="131.40" x2="91.70" y2="131.40" stroke="#92dd2c" stroke-width="1.60"/><line x1="91.70" y1="131.40" x2="95.90" y2="131.40" stroke="#2e52d4" stroke-width="1.60"/><line x1="95.90" y1="131.40" x2="104.28" y2="131.40" stroke="#2e52d4" stroke-width="1.60"/><line x1="104.28" y1="131.40" x2="112.65" y2="131.40" stroke="#92dd2c" stroke-width="1.60"/><line x1="104.25" y1="120.20" x2="108.45" y2="125.80" stroke="#e3262b" stroke-width="1.60"/><line x1="108.45" y1="125.80" x2="112.65" y2="131.40" stroke="#92dd2c" stroke-width="1.60"/><line x1="112.65" y1="131.40" x2="116.85" y2="131.40" stroke="#92dd2c" stroke-width="1.60"/><line x1="116.85" y1="131.40" x2="121.05" y2="131.40" stroke="#2e52d4" stroke-width="1.60"/><circle cx="45.60" cy="131.40" r="3.20" fill="url(#gB)"/><circle cx="70.75" cy="131.40" r="3.20" fill="url(#gB)"/><circle cx="95.90" cy="131.40" r="3.20" fill="url(#gB)"/><circle cx="121.05" cy="131.40" r="3.20" fill="url(#gB)"/><circle cx="37.20" cy="131.40" r="2.50" fill="url(#gG)"/><circle cx="62.35" cy="131.40" r="2.50" fill="url(#gG)"/><circle cx="87.50" cy="131.40" r="2.50" fill="url(#gG)"/><circle cx="112.65" cy="131.40" r="2.50" fill="url(#gG)"/><circle cx="28.80" cy="120.20" r="4.90" fill="url(#gR)"/><circle cx="53.95" cy="120.20" r="4.90" fill="url(#gR)"/><circle cx="79.10" cy="120.20" r="4.90" fill="url(#gR)"/><circle cx="104.25" cy="120.20" r="4.90" fill="url(#gR)"/>
<line x1="26.30" y1="265.20" x2="30.50" y2="268.85" stroke="#e3262b" stroke-width="1.60"/><line x1="30.50" y1="268.85" x2="34.70" y2="272.50" stroke="#92dd2c" stroke-width="1.60"/><line x1="34.70" y1="272.50" x2="43.48" y2="268.85" stroke="#92dd2c" stroke-width="1.60"/><line x1="43.48" y1="268.85" x2="52.25" y2="265.20" stroke="#e3262b" stroke-width="1.60"/><line x1="34.70" y1="272.50" x2="38.95" y2="273.70" stroke="#92dd2c" stroke-width="1.60"/><line x1="38.95" y1="273.70" x2="43.20" y2="274.90" stroke="#b1b1b4" stroke-width="1.60"/><line x1="43.20" y1="274.90" x2="51.93" y2="273.70" stroke="#b1b1b4" stroke-width="1.60"/><line x1="51.93" y1="273.70" x2="60.65" y2="272.50" stroke="#92dd2c" stroke-width="1.60"/><line x1="52.25" y1="265.20" x2="56.45" y2="268.85" stroke="#e3262b" stroke-width="1.60"/><line x1="56.45" y1="268.85" x2="60.65" y2="272.50" stroke="#92dd2c" stroke-width="1.60"/><line x1="60.65" y1="272.50" x2="69.43" y2="268.85" stroke="#92dd2c" stroke-width="1.60"/><line x1="69.43" y1="268.85" x2="78.20" y2="265.20" stroke="#e3262b" stroke-width="1.60"/><line x1="60.65" y1="272.50" x2="64.90" y2="273.70" stroke="#92dd2c" stroke-width="1.60"/><line x1="64.90" y1="273.70" x2="69.15" y2="274.90" stroke="#b1b1b4" stroke-width="1.60"/><line x1="69.15" y1="274.90" x2="77.88" y2="273.70" stroke="#b1b1b4" stroke-width="1.60"/><line x1="77.88" y1="273.70" x2="86.60" y2="272.50" stroke="#92dd2c" stroke-width="1.60"/><line x1="78.20" y1="265.20" x2="82.40" y2="268.85" stroke="#e3262b" stroke-width="1.60"/><line x1="82.40" y1="268.85" x2="86.60" y2="272.50" stroke="#92dd2c" stroke-width="1.60"/><line x1="86.60" y1="272.50" x2="95.38" y2="268.85" stroke="#92dd2c" stroke-width="1.60"/><line x1="95.38" y1="268.85" x2="104.15" y2="265.20" stroke="#e3262b" stroke-width="1.60"/><line x1="86.60" y1="272.50" x2="90.85" y2="273.70" stroke="#92dd2c" stroke-width="1.60"/><line x1="90.85" y1="273.70" x2="95.10" y2="274.90" stroke="#b1b1b4" stroke-width="1.60"/><line x1="95.10" y1="274.90" x2="103.82" y2="273.70" stroke="#b1b1b4" stroke-width="1.60"/><line x1="103.82" y1="273.70" x2="112.55" y2="272.50" stroke="#92dd2c" stroke-width="1.60"/><line x1="104.15" y1="265.20" x2="108.35" y2="268.85" stroke="#e3262b" stroke-width="1.60"/><line x1="108.35" y1="268.85" x2="112.55" y2="272.50" stroke="#92dd2c" stroke-width="1.60"/><line x1="112.55" y1="272.50" x2="116.80" y2="273.70" stroke="#92dd2c" stroke-width="1.60"/><line x1="116.80" y1="273.70" x2="121.05" y2="274.90" stroke="#b1b1b4" stroke-width="1.60"/><circle cx="43.20" cy="274.90" r="3.40" fill="url(#gA)"/><circle cx="69.15" cy="274.90" r="3.40" fill="url(#gA)"/><circle cx="95.10" cy="274.90" r="3.40" fill="url(#gA)"/><circle cx="121.05" cy="274.90" r="3.40" fill="url(#gA)"/><circle cx="34.70" cy="272.50" r="2.30" fill="url(#gG)"/><circle cx="60.65" cy="272.50" r="2.30" fill="url(#gG)"/><circle cx="86.60" cy="272.50" r="2.30" fill="url(#gG)"/><circle cx="112.55" cy="272.50" r="2.30" fill="url(#gG)"/><circle cx="26.30" cy="265.20" r="4.90" fill="url(#gR)"/><circle cx="52.25" cy="265.20" r="4.90" fill="url(#gR)"/><circle cx="78.20" cy="265.20" r="4.90" fill="url(#gR)"/><circle cx="104.15" cy="265.20" r="4.90" fill="url(#gR)"/>
<circle cx="143.40" cy="98.00" r="3.90" fill="url(#gB)"/>
<circle cx="143.40" cy="109.90" r="4.00" fill="url(#gA)"/>
<circle cx="143.20" cy="120.50" r="2.50" fill="url(#gG)"/>
<circle cx="143.60" cy="132.20" r="5.20" fill="url(#gR)"/>
<text x="148.00" y="101.60" font-size="11.00" text-anchor="start" fill="#000" style="font-family:&quot;Liberation Serif&quot;,serif" >Cu</text>
<text x="149.60" y="112.80" font-size="11.00" text-anchor="start" fill="#000" style="font-family:&quot;Liberation Serif&quot;,serif" >Ag</text>
<text x="149.60" y="123.80" font-size="11.00" text-anchor="start" fill="#000" style="font-family:&quot;Liberation Serif&quot;,serif" >Se</text>
<text x="150.60" y="135.30" font-size="11.00" text-anchor="start" fill="#000" style="font-family:&quot;Liberation Serif&quot;,serif" >Y=Li,Na,K</text>
<text x="38.20" y="17.90" font-size="14.00" text-anchor="start" fill="#000" style="font-family:&quot;Liberation Serif&quot;,serif" >(a)</text>
<text x="203.80" y="12.00" font-size="13.50" text-anchor="start" fill="#000" style="font-family:&quot;Liberation Serif&quot;,serif" >(b)</text>
<text x="576.50" y="27.00" font-size="13.50" text-anchor="start" fill="#000" style="font-family:&quot;Liberation Serif&quot;,serif" >(c)</text>
<text transform="translate(10.5,72.6) rotate(-90)" font-size="10" style="font-family:&quot;Liberation Sans&quot;,sans-serif">Top view</text>
<text transform="translate(10.7,143.5) rotate(-90)" font-size="10.3" style="font-family:&quot;Liberation Sans&quot;,sans-serif">Side view</text>
<g fill="none" stroke="#f0161c" stroke-width="1.05"><path d="M236.30 29.20 C239.42 28.77 248.68 27.40 255.00 26.60 C261.32 25.80 268.13 24.45 274.20 24.40 C280.27 24.35 285.43 25.70 291.40 26.30 C297.37 26.90 302.92 27.55 310.00 28.00 C317.08 28.45 329.92 28.83 333.90 29.00"/><path d="M236.30 29.20 C239.92 29.23 251.38 29.47 258.00 29.40 C264.62 29.33 270.33 29.33 276.00 28.80 C281.67 28.27 286.88 26.78 292.00 26.20 C297.12 25.62 302.03 25.13 306.70 25.30 C311.37 25.47 315.47 26.58 320.00 27.20 C324.53 27.82 331.58 28.70 333.90 29.00"/><path d="M236.30 56.40 C239.42 56.48 249.00 56.77 255.00 56.90 C261.00 57.03 266.23 57.47 272.30 57.20 C278.37 56.93 285.03 55.30 291.40 55.30 C297.77 55.30 303.42 57.02 310.50 57.20 C317.58 57.38 330.00 56.53 333.90 56.40"/><path d="M236.30 73.20 C239.73 73.58 251.43 74.53 256.90 75.50 C262.37 76.47 264.52 78.35 269.10 79.00 C273.68 79.65 280.08 79.53 284.40 79.40 C288.72 79.27 290.68 78.78 295.00 78.20 C299.32 77.62 303.82 76.73 310.30 75.90 C316.78 75.07 329.97 73.65 333.90 73.20"/><path d="M236.30 73.20 C239.75 73.43 251.02 74.27 257.00 74.60 C262.98 74.93 267.63 74.83 272.20 75.20 C276.77 75.57 280.60 76.40 284.40 76.80 C288.20 77.20 290.73 77.70 295.00 77.60 C299.27 77.50 303.52 76.93 310.00 76.20 C316.48 75.47 329.92 73.70 333.90 73.20"/><path d="M236.30 102.20 C240.25 102.23 253.55 102.28 260.00 102.40 C266.45 102.52 270.00 102.73 275.00 102.90 C280.00 103.07 284.17 103.40 290.00 103.40 C295.83 103.40 302.68 103.10 310.00 102.90 C317.32 102.70 329.92 102.32 333.90 102.20"/><path d="M236.50 119.20 C237.97 118.55 242.65 116.30 245.30 115.30 C247.95 114.30 250.03 113.60 252.40 113.20 C254.77 112.80 255.90 112.78 259.50 112.90 C263.10 113.02 268.58 113.98 274.00 113.90 C279.42 113.82 285.95 112.48 292.00 112.40 C298.05 112.32 305.30 112.88 310.30 113.40 C315.30 113.92 318.13 114.53 322.00 115.50 C325.87 116.47 331.58 118.58 333.50 119.20"/><path d="M236.50 119.20 C237.50 117.97 240.55 113.98 242.50 111.80 C244.45 109.62 246.07 107.75 248.20 106.10 C250.33 104.45 252.93 103.08 255.30 101.90 C257.67 100.72 260.03 99.67 262.40 99.00 C264.77 98.33 266.53 98.35 269.50 97.90 C272.47 97.45 276.23 96.93 280.20 96.30 C284.17 95.67 288.92 94.28 293.30 94.10 C297.68 93.92 302.47 94.47 306.50 95.20 C310.53 95.93 314.20 96.67 317.50 98.50 C320.80 100.33 323.63 102.75 326.30 106.20 C328.97 109.65 332.30 117.03 333.50 119.20"/><path d="M236.50 119.20 C237.27 117.73 239.38 113.28 241.10 110.40 C242.82 107.52 244.92 104.38 246.80 101.90 C248.68 99.42 250.28 97.52 252.40 95.50 C254.52 93.48 257.13 91.33 259.50 89.80 C261.87 88.27 264.18 87.10 266.60 86.30 C269.02 85.50 270.77 85.07 274.00 85.00 C277.23 84.93 281.73 85.63 286.00 85.90 C290.27 86.17 295.45 85.97 299.60 86.60 C303.75 87.23 307.18 87.72 310.90 89.70 C314.62 91.68 318.13 93.58 321.90 98.50 C325.67 103.42 331.57 115.75 333.50 119.20"/></g><rect x="236.50" y="14.50" width="97.00" height="106.00" fill="none" stroke="#585858" stroke-width="1"/><line x1="236.50" y1="119.20" x2="333.50" y2="119.20" stroke="#30d830" stroke-width="1.0" stroke-dasharray="1 0.9"/><text x="233.30" y="121.70" font-size="7.60" text-anchor="end" fill="#000" style="font-family:&quot;Liberation Serif&quot;,serif" letter-spacing="-0.35">0</text><line x1="236.50" y1="108.69" x2="238.50" y2="108.69" stroke="#585858" stroke-width="0.8"/><line x1="236.50" y1="98.18" x2="240.50" y2="98.18" stroke="#585858" stroke-width="0.8"/><text x="233.30" y="100.68" font-size="7.60" text-anchor="end" fill="#000" style="font-family:&quot;Liberation Serif&quot;,serif" letter-spacing="-0.35">100</text><line x1="236.50" y1="87.67" x2="238.50" y2="87.67" stroke="#585858" stroke-width="0.8"/><line x1="236.50" y1="77.16" x2="240.50" y2="77.16" stroke="#585858" stroke-width="0.8"/><text x="233.30" y="79.66" font-size="7.60" text-anchor="end" fill="#000" style="font-family:&quot;Liberation Serif&quot;,serif" letter-spacing="-0.35">200</text><line x1="236.50" y1="66.65" x2="238.50" y2="66.65" stroke="#585858" stroke-width="0.8"/><line x1="236.50" y1="56.14" x2="240.50" y2="56.14" stroke="#585858" stroke-width="0.8"/><text x="233.30" y="58.64" font-size="7.60" text-anchor="end" fill="#000" style="font-family:&quot;Liberation Serif&quot;,serif" letter-spacing="-0.35">300</text><line x1="236.50" y1="45.63" x2="238.50" y2="45.63" stroke="#585858" stroke-width="0.8"/><line x1="236.50" y1="35.12" x2="240.50" y2="35.12" stroke="#585858" stroke-width="0.8"/><text x="233.30" y="37.62" font-size="7.60" text-anchor="end" fill="#000" style="font-family:&quot;Liberation Serif&quot;,serif" letter-spacing="-0.35">400</text><line x1="236.50" y1="24.61" x2="238.50" y2="24.61" stroke="#585858" stroke-width="0.8"/><text x="233.30" y="16.60" font-size="7.60" text-anchor="end" fill="#000" style="font-family:&quot;Liberation Serif&quot;,serif" letter-spacing="-0.35">500</text><text x="240.60" y="23.20" font-size="10.00" text-anchor="start" fill="#000" style="font-family:&quot;Liberation Serif&quot;,serif" >Li-CuSe</text><text x="237.50" y="128.10" font-size="7.20" text-anchor="middle" fill="#000" style="font-family:&quot;Liberation Serif&quot;,serif" >&#915;</text><text x="278.33" y="128.10" font-size="7.20" text-anchor="middle" fill="#000" style="font-family:&quot;Liberation Serif&quot;,serif" >M</text><text x="298.60" y="128.10" font-size="7.20" text-anchor="middle" fill="#000" style="font-family:&quot;Liberation Serif&quot;,serif" >K</text><text x="332.60" y="128.10" font-size="7.20" text-anchor="middle" fill="#000" style="font-family:&quot;Liberation Serif&quot;,serif" >&#915;</text>
<g fill="none" stroke="#f0161c" stroke-width="1.05"><path d="M353.50 46.20 C355.53 45.40 361.30 43.05 365.70 41.40 C370.10 39.75 375.70 37.47 379.90 36.30 C384.10 35.13 386.18 35.02 390.90 34.40 C395.62 33.78 402.97 32.53 408.20 32.60 C413.43 32.67 417.33 33.47 422.30 34.80 C427.27 36.13 433.10 38.70 438.00 40.60 C442.90 42.50 449.42 45.27 451.70 46.20"/><path d="M353.50 46.20 C355.53 45.47 361.30 43.28 365.70 41.80 C370.10 40.32 375.70 37.88 379.90 37.30 C384.10 36.72 386.55 38.12 390.90 38.30 C395.25 38.48 401.28 38.47 406.00 38.40 C410.72 38.33 413.87 37.05 419.20 37.90 C424.53 38.75 432.58 42.12 438.00 43.50 C443.42 44.88 449.42 45.75 451.70 46.20"/><path d="M353.50 53.30 C356.32 51.98 364.70 47.80 370.40 45.40 C376.10 43.00 381.93 39.98 387.70 38.90 C393.47 37.82 399.75 38.83 405.00 38.90 C410.25 38.97 413.70 37.72 419.20 39.30 C424.70 40.88 432.58 46.07 438.00 48.40 C443.42 50.73 449.42 52.48 451.70 53.30"/><path d="M353.50 53.30 C355.53 54.08 361.30 56.83 365.70 58.00 C370.10 59.17 373.35 60.08 379.90 60.30 C386.45 60.52 398.45 59.25 405.00 59.30 C411.55 59.35 413.70 60.95 419.20 60.60 C424.70 60.25 432.58 58.42 438.00 57.20 C443.42 55.98 449.42 53.95 451.70 53.30"/><path d="M353.50 53.30 C355.53 54.22 361.30 57.38 365.70 58.80 C370.10 60.22 373.35 61.35 379.90 61.80 C386.45 62.25 396.88 61.42 405.00 61.50 C413.12 61.58 423.10 62.75 428.60 62.30 C434.10 61.85 434.15 60.30 438.00 58.80 C441.85 57.30 449.42 54.22 451.70 53.30"/><path d="M353.80 118.40 C355.30 115.03 360.07 103.77 362.80 98.20 C365.53 92.63 367.72 88.90 370.20 85.00 C372.68 81.10 374.68 77.27 377.70 74.80 C380.72 72.33 383.75 70.98 388.30 70.20 C392.85 69.42 400.57 70.05 405.00 70.10 C409.43 70.15 411.47 69.72 414.90 70.50 C418.33 71.28 422.40 72.83 425.60 74.80 C428.80 76.77 431.27 78.03 434.10 82.30 C436.93 86.57 439.65 94.38 442.60 100.40 C445.55 106.42 450.27 115.40 451.80 118.40"/><path d="M353.50 83.30 C355.42 83.32 361.92 83.22 365.00 83.40 C368.08 83.58 368.12 84.07 372.00 84.40 C375.88 84.73 383.63 84.80 388.30 85.40 C392.97 86.00 396.27 87.37 400.00 88.00 C403.73 88.63 406.78 89.20 410.70 89.20 C414.62 89.20 419.95 87.55 423.50 88.00 C427.05 88.45 428.82 89.13 432.00 91.90 C435.18 94.67 439.30 100.18 442.60 104.60 C445.90 109.02 450.27 116.10 451.80 118.40"/><path d="M353.80 118.40 C356.72 114.67 366.27 100.87 371.30 96.00 C376.33 91.13 380.45 90.60 384.00 89.20 C387.55 87.80 389.93 88.58 392.60 87.60 C395.27 86.62 396.63 84.43 400.00 83.30 C403.37 82.17 408.88 81.08 412.80 80.80 C416.72 80.52 419.97 81.13 423.50 81.60 C427.03 82.07 429.28 83.27 434.00 83.60 C438.72 83.93 448.83 83.60 451.80 83.60"/><path d="M353.80 118.40 C356.72 116.97 365.90 111.93 371.30 109.80 C376.70 107.67 381.95 106.50 386.20 105.60 C390.45 104.70 393.68 105.07 396.80 104.40 C399.92 103.73 402.77 102.10 404.90 101.60 C407.03 101.10 407.22 101.25 409.60 101.40 C411.98 101.55 415.47 101.43 419.20 102.50 C422.93 103.57 426.57 105.15 432.00 107.80 C437.43 110.45 448.50 116.63 451.80 118.40"/></g><rect x="353.50" y="14.50" width="98.00" height="105.00" fill="none" stroke="#585858" stroke-width="1"/><line x1="353.50" y1="118.30" x2="451.50" y2="118.30" stroke="#30d830" stroke-width="1.0" stroke-dasharray="1 0.9"/><text x="350.30" y="120.80" font-size="7.60" text-anchor="end" fill="#000" style="font-family:&quot;Liberation Serif&quot;,serif" letter-spacing="-0.35">0</text><line x1="353.50" y1="109.61" x2="355.50" y2="109.61" stroke="#585858" stroke-width="0.8"/><line x1="353.50" y1="100.91" x2="357.50" y2="100.91" stroke="#585858" stroke-width="0.8"/><text x="350.30" y="103.41" font-size="7.60" text-anchor="end" fill="#000" style="font-family:&quot;Liberation Serif&quot;,serif" letter-spacing="-0.35">50</text><line x1="353.50" y1="92.22" x2="355.50" y2="92.22" stroke="#585858" stroke-width="0.8"/><line x1="353.50" y1="83.53" x2="357.50" y2="83.53" stroke="#585858" stroke-width="0.8"/><text x="350.30" y="86.03" font-size="7.60" text-anchor="end" fill="#000" style="font-family:&quot;Liberation Serif&quot;,serif" letter-spacing="-0.35">100</text><line x1="353.50" y1="74.84" x2="355.50" y2="74.84" stroke="#585858" stroke-width="0.8"/><line x1="353.50" y1="66.14" x2="357.50" y2="66.14" stroke="#585858" stroke-width="0.8"/><text x="350.30" y="68.64" font-size="7.60" text-anchor="end" fill="#000" style="font-family:&quot;Liberation Serif&quot;,serif" letter-spacing="-0.35">150</text><line x1="353.50" y1="57.45" x2="355.50" y2="57.45" stroke="#585858" stroke-width="0.8"/><line x1="353.50" y1="48.76" x2="357.50" y2="48.76" stroke="#585858" stroke-width="0.8"/><text x="350.30" y="51.26" font-size="7.60" text-anchor="end" fill="#000" style="font-family:&quot;Liberation Serif&quot;,serif" letter-spacing="-0.35">200</text><line x1="353.50" y1="40.07" x2="355.50" y2="40.07" stroke="#585858" stroke-width="0.8"/><line x1="353.50" y1="31.38" x2="357.50" y2="31.38" stroke="#585858" stroke-width="0.8"/><text x="350.30" y="33.88" font-size="7.60" text-anchor="end" fill="#000" style="font-family:&quot;Liberation Serif&quot;,serif" letter-spacing="-0.35">250</text><line x1="353.50" y1="22.68" x2="355.50" y2="22.68" stroke="#585858" stroke-width="0.8"/><text x="350.30" y="16.49" font-size="7.60" text-anchor="end" fill="#000" style="font-family:&quot;Liberation Serif&quot;,serif" letter-spacing="-0.35">300</text><text x="360.30" y="24.30" font-size="10.00" text-anchor="start" fill="#000" style="font-family:&quot;Liberation Serif&quot;,serif" >Na-CuSe</text><text x="354.50" y="128.10" font-size="7.20" text-anchor="middle" fill="#000" style="font-family:&quot;Liberation Serif&quot;,serif" >&#915;</text><text x="395.75" y="128.10" font-size="7.20" text-anchor="middle" fill="#000" style="font-family:&quot;Liberation Serif&quot;,serif" >M</text><text x="416.23" y="128.10" font-size="7.20" text-anchor="middle" fill="#000" style="font-family:&quot;Liberation Serif&quot;,serif" >K</text><text x="450.60" y="128.10" font-size="7.20" text-anchor="middle" fill="#000" style="font-family:&quot;Liberation Serif&quot;,serif" >&#915;</text>
<g fill="none" stroke="#f0161c" stroke-width="1.05"><path d="M471.90 41.70 C473.85 41.87 477.50 42.78 483.60 42.70 C489.70 42.62 501.23 42.02 508.50 41.20 C515.77 40.38 522.27 38.17 527.20 37.80 C532.13 37.43 534.20 38.13 538.10 39.00 C542.00 39.87 546.70 41.95 550.60 43.00 C554.50 44.05 558.40 44.87 561.50 45.30 C564.60 45.73 567.92 45.55 569.20 45.60"/><path d="M471.90 45.60 C474.92 45.58 483.90 45.63 490.00 45.50 C496.10 45.37 503.60 44.50 508.50 44.80 C513.40 45.10 516.28 46.67 519.40 47.30 C522.52 47.93 524.08 48.58 527.20 48.60 C530.32 48.62 534.20 48.17 538.10 47.40 C542.00 46.63 545.42 44.95 550.60 44.00 C555.78 43.05 566.10 42.08 569.20 41.70"/><path d="M471.90 51.00 C473.85 51.13 479.05 50.97 483.60 51.80 C488.15 52.63 493.97 55.27 499.20 56.00 C504.43 56.73 509.82 56.17 515.00 56.20 C520.18 56.23 525.93 56.17 530.30 56.20 C534.67 56.23 537.05 57.13 541.20 56.40 C545.35 55.67 550.53 52.77 555.20 51.80 C559.87 50.83 566.87 50.80 569.20 50.60"/><path d="M471.80 69.40 C474.95 68.83 485.67 66.93 490.70 66.00 C495.73 65.07 497.45 64.18 502.00 63.80 C506.55 63.42 513.07 63.33 518.00 63.70 C522.93 64.07 527.82 65.38 531.60 66.00 C535.38 66.62 538.05 66.43 540.70 67.40 C543.35 68.37 545.22 69.20 547.50 71.80 C549.78 74.40 552.12 79.05 554.40 83.00 C556.68 86.95 558.68 91.37 561.20 95.50 C563.72 99.63 568.12 105.75 569.50 107.80"/><path d="M471.80 70.50 C474.95 70.75 486.03 72.18 490.70 72.00 C495.37 71.82 496.77 70.30 499.80 69.40 C502.83 68.50 505.87 67.07 508.90 66.60 C511.93 66.13 513.45 66.60 518.00 66.60 C522.55 66.60 531.28 66.50 536.20 66.60 C541.12 66.70 542.00 66.82 547.50 67.20 C553.00 67.58 565.58 68.62 569.20 68.90"/><path d="M471.80 72.10 C475.33 72.22 487.57 72.43 493.00 72.80 C498.43 73.17 500.98 74.18 504.40 74.30 C507.82 74.42 510.90 74.12 513.50 73.50 C516.10 72.88 516.60 71.58 520.00 70.60 C523.40 69.62 528.93 67.73 533.90 67.60 C538.87 67.47 543.92 69.13 549.80 69.80 C555.68 70.47 565.97 71.30 569.20 71.60"/><path d="M471.80 107.80 C473.07 105.18 477.00 96.23 479.40 92.10 C481.80 87.97 483.93 85.63 486.20 83.00 C488.47 80.37 490.37 77.52 493.00 76.30 C495.63 75.08 498.58 75.65 502.00 75.70 C505.42 75.75 509.32 76.45 513.50 76.60 C517.68 76.75 523.32 76.37 527.10 76.60 C530.88 76.83 532.42 78.07 536.20 78.00 C539.98 77.93 544.30 76.70 549.80 76.20 C555.30 75.70 565.97 75.20 569.20 75.00"/><path d="M471.80 107.80 C473.43 106.13 478.45 100.42 481.60 97.80 C484.75 95.18 487.30 94.00 490.70 92.10 C494.10 90.20 498.97 87.62 502.00 86.40 C505.03 85.18 505.90 85.75 508.90 84.80 C511.90 83.85 516.58 81.47 520.00 80.70 C523.42 79.93 526.57 80.22 529.40 80.20 C532.23 80.18 534.35 80.30 537.00 80.60 C539.65 80.90 542.40 80.47 545.30 82.00 C548.20 83.53 551.37 86.80 554.40 89.80 C557.43 92.80 560.98 97.00 563.50 100.00 C566.02 103.00 568.50 106.50 569.50 107.80"/><path d="M471.80 118.00 C472.25 117.83 473.55 117.50 474.50 117.00 C475.45 116.50 476.58 115.75 477.50 115.00 C478.42 114.25 479.37 113.42 480.00 112.50 C480.63 111.58 480.98 110.43 481.30 109.50 C481.62 108.57 481.58 107.77 481.90 106.90 C482.22 106.03 482.52 105.28 483.20 104.30 C483.88 103.32 484.87 102.18 486.00 101.00 C487.13 99.82 488.45 98.30 490.00 97.20 C491.55 96.10 492.53 95.25 495.30 94.40 C498.07 93.55 502.48 92.57 506.60 92.10 C510.72 91.63 515.07 91.78 520.00 91.60 C524.93 91.42 532.03 90.80 536.20 91.00 C540.37 91.20 542.35 92.03 545.00 92.80 C547.65 93.57 550.10 94.30 552.10 95.60 C554.10 96.90 555.83 98.83 557.00 100.60 C558.17 102.37 558.57 104.47 559.10 106.20 C559.63 107.93 559.48 109.47 560.20 111.00 C560.92 112.53 562.05 114.27 563.40 115.40 C564.75 116.53 567.33 117.37 568.30 117.80 C569.27 118.23 569.05 117.97 569.20 118.00"/></g><rect x="471.50" y="14.50" width="98.00" height="105.00" fill="none" stroke="#585858" stroke-width="1"/><line x1="471.50" y1="107.80" x2="569.50" y2="107.80" stroke="#30d830" stroke-width="1.0" stroke-dasharray="1 0.9"/><line x1="471.50" y1="115.61" x2="473.50" y2="115.61" stroke="#585858" stroke-width="0.8"/><text x="468.30" y="110.30" font-size="7.60" text-anchor="end" fill="#000" style="font-family:&quot;Liberation Serif&quot;,serif" letter-spacing="-0.35">0</text><line x1="471.50" y1="99.99" x2="473.50" y2="99.99" stroke="#585858" stroke-width="0.8"/><line x1="471.50" y1="92.19" x2="475.50" y2="92.19" stroke="#585858" stroke-width="0.8"/><text x="468.30" y="94.69" font-size="7.60" text-anchor="end" fill="#000" style="font-family:&quot;Liberation Serif&quot;,serif" letter-spacing="-0.35">50</text><line x1="471.50" y1="84.38" x2="473.50" y2="84.38" stroke="#585858" stroke-width="0.8"/><line x1="471.50" y1="76.57" x2="475.50" y2="76.57" stroke="#585858" stroke-width="0.8"/><text x="468.30" y="79.07" font-size="7.60" text-anchor="end" fill="#000" style="font-family:&quot;Liberation Serif&quot;,serif" letter-spacing="-0.35">100</text><line x1="471.50" y1="68.76" x2="473.50" y2="68.76" stroke="#585858" stroke-width="0.8"/><line x1="471.50" y1="60.95" x2="475.50" y2="60.95" stroke="#585858" stroke-width="0.8"/><text x="468.30" y="63.45" font-size="7.60" text-anchor="end" fill="#000" style="font-family:&quot;Liberation Serif&quot;,serif" letter-spacing="-0.35">150</text><line x1="471.50" y1="53.15" x2="473.50" y2="53.15" stroke="#585858" stroke-width="0.8"/><line x1="471.50" y1="45.34" x2="475.50" y2="45.34" stroke="#585858" stroke-width="0.8"/><text x="468.30" y="47.84" font-size="7.60" text-anchor="end" fill="#000" style="font-family:&quot;Liberation Serif&quot;,serif" letter-spacing="-0.35">200</text><line x1="471.50" y1="37.53" x2="473.50" y2="37.53" stroke="#585858" stroke-width="0.8"/><line x1="471.50" y1="29.72" x2="475.50" y2="29.72" stroke="#585858" stroke-width="0.8"/><text x="468.30" y="32.22" font-size="7.60" text-anchor="end" fill="#000" style="font-family:&quot;Liberation Serif&quot;,serif" letter-spacing="-0.35">250</text><line x1="471.50" y1="21.92" x2="473.50" y2="21.92" stroke="#585858" stroke-width="0.8"/><text x="468.30" y="16.61" font-size="7.60" text-anchor="end" fill="#000" style="font-family:&quot;Liberation Serif&quot;,serif" letter-spacing="-0.35">300</text><text x="478.30" y="24.70" font-size="10.00" text-anchor="start" fill="#000" style="font-family:&quot;Liberation Serif&quot;,serif" >K-CuSe</text><text x="472.50" y="128.10" font-size="7.20" text-anchor="middle" fill="#000" style="font-family:&quot;Liberation Serif&quot;,serif" >&#915;</text><text x="513.75" y="128.10" font-size="7.20" text-anchor="middle" fill="#000" style="font-family:&quot;Liberation Serif&quot;,serif" >M</text><text x="534.23" y="128.10" font-size="7.20" text-anchor="middle" fill="#000" style="font-family:&quot;Liberation Serif&quot;,serif" >K</text><text x="568.60" y="128.10" font-size="7.20" text-anchor="middle" fill="#000" style="font-family:&quot;Liberation Serif&quot;,serif" >&#915;</text>
<g fill="none" stroke="#f0161c" stroke-width="1.05"><path d="M234.30 176.00 C236.52 175.78 241.75 175.43 247.60 174.70 C253.45 173.97 264.20 172.07 269.40 171.60 C274.60 171.13 275.15 171.58 278.80 171.90 C282.45 172.22 286.62 172.90 291.30 173.50 C295.98 174.10 300.07 175.08 306.90 175.50 C313.73 175.92 328.07 175.92 332.30 176.00"/><path d="M234.30 176.00 C237.75 176.03 248.10 176.20 255.00 176.20 C261.90 176.20 269.65 176.50 275.70 176.00 C281.75 175.50 287.15 173.80 291.30 173.20 C295.45 172.60 296.70 172.27 300.60 172.40 C304.50 172.53 309.42 173.40 314.70 174.00 C319.98 174.60 329.37 175.67 332.30 176.00"/><path d="M234.30 220.30 C236.52 220.08 242.78 219.87 247.60 219.00 C252.42 218.13 256.45 216.05 263.20 215.10 C269.95 214.15 282.13 213.42 288.10 213.30 C294.07 213.18 294.85 213.58 299.00 214.40 C303.15 215.22 307.45 217.22 313.00 218.20 C318.55 219.18 329.08 219.95 332.30 220.30"/><path d="M234.30 224.50 C238.58 224.47 250.72 224.48 260.00 224.30 C269.28 224.12 281.67 223.45 290.00 223.40 C298.33 223.35 302.95 223.82 310.00 224.00 C317.05 224.18 328.58 224.42 332.30 224.50"/><path d="M234.30 224.50 C238.58 224.63 252.60 225.00 260.00 225.30 C267.40 225.60 273.50 226.10 278.70 226.30 C283.90 226.50 287.30 226.60 291.20 226.50 C295.10 226.40 295.25 226.03 302.10 225.70 C308.95 225.37 327.27 224.70 332.30 224.50"/><path d="M234.30 245.40 C236.00 245.23 240.98 245.53 244.50 244.40 C248.02 243.27 251.00 239.90 255.40 238.60 C259.80 237.30 265.20 237.20 270.90 236.60 C276.60 236.00 284.40 235.13 289.60 235.00 C294.80 234.87 297.68 234.88 302.10 235.80 C306.52 236.72 312.47 238.95 316.10 240.50 C319.73 242.05 321.20 244.28 323.90 245.10 C326.60 245.92 330.90 245.35 332.30 245.40"/><path d="M234.30 257.30 C235.22 256.57 237.58 254.42 239.80 252.90 C242.02 251.38 243.70 249.88 247.60 248.20 C251.50 246.52 258.02 243.78 263.20 242.80 C268.38 241.82 272.73 242.30 278.70 242.30 C284.67 242.30 293.02 242.07 299.00 242.80 C304.98 243.53 310.18 245.15 314.60 246.70 C319.02 248.25 322.55 250.33 325.50 252.10 C328.45 253.87 331.17 256.43 332.30 257.30"/><path d="M234.30 257.30 C235.22 256.43 237.58 253.58 239.80 252.10 C242.02 250.62 241.12 248.97 247.60 248.40 C254.08 247.83 270.92 248.60 278.70 248.70 C286.48 248.80 288.58 249.13 294.30 249.00 C300.02 248.87 307.80 247.25 313.00 247.90 C318.20 248.55 322.28 251.33 325.50 252.90 C328.72 254.47 331.17 256.57 332.30 257.30"/><path d="M234.30 257.30 C236.52 257.87 242.78 259.75 247.60 260.70 C252.42 261.65 256.20 262.48 263.20 263.00 C270.20 263.52 281.82 263.87 289.60 263.80 C297.38 263.73 302.78 263.68 309.90 262.60 C317.02 261.52 328.57 258.18 332.30 257.30"/></g><rect x="234.50" y="159.50" width="98.00" height="105.00" fill="none" stroke="#585858" stroke-width="1"/><line x1="234.50" y1="257.30" x2="332.50" y2="257.30" stroke="#30d830" stroke-width="1.0" stroke-dasharray="1 0.9"/><text x="231.30" y="259.80" font-size="7.60" text-anchor="end" fill="#000" style="font-family:&quot;Liberation Serif&quot;,serif" letter-spacing="-0.35">0</text><line x1="234.50" y1="247.47" x2="236.50" y2="247.47" stroke="#585858" stroke-width="0.8"/><line x1="234.50" y1="237.64" x2="238.50" y2="237.64" stroke="#585858" stroke-width="0.8"/><text x="231.30" y="240.14" font-size="7.60" text-anchor="end" fill="#000" style="font-family:&quot;Liberation Serif&quot;,serif" letter-spacing="-0.35">100</text><line x1="234.50" y1="227.81" x2="236.50" y2="227.81" stroke="#585858" stroke-width="0.8"/><line x1="234.50" y1="217.98" x2="238.50" y2="217.98" stroke="#585858" stroke-width="0.8"/><text x="231.30" y="220.48" font-size="7.60" text-anchor="end" fill="#000" style="font-family:&quot;Liberation Serif&quot;,serif" letter-spacing="-0.35">200</text><line x1="234.50" y1="208.15" x2="236.50" y2="208.15" stroke="#585858" stroke-width="0.8"/><line x1="234.50" y1="198.32" x2="238.50" y2="198.32" stroke="#585858" stroke-width="0.8"/><text x="231.30" y="200.82" font-size="7.60" text-anchor="end" fill="#000" style="font-family:&quot;Liberation Serif&quot;,serif" letter-spacing="-0.35">300</text><line x1="234.50" y1="188.49" x2="236.50" y2="188.49" stroke="#585858" stroke-width="0.8"/><line x1="234.50" y1="178.66" x2="238.50" y2="178.66" stroke="#585858" stroke-width="0.8"/><text x="231.30" y="181.16" font-size="7.60" text-anchor="end" fill="#000" style="font-family:&quot;Liberation Serif&quot;,serif" letter-spacing="-0.35">400</text><line x1="234.50" y1="168.83" x2="236.50" y2="168.83" stroke="#585858" stroke-width="0.8"/><text x="231.30" y="161.50" font-size="7.60" text-anchor="end" fill="#000" style="font-family:&quot;Liberation Serif&quot;,serif" letter-spacing="-0.35">500</text><text x="237.00" y="168.00" font-size="10.00" text-anchor="start" fill="#000" style="font-family:&quot;Liberation Serif&quot;,serif" >Li-AgSe</text><text x="235.50" y="272.50" font-size="7.20" text-anchor="middle" fill="#000" style="font-family:&quot;Liberation Serif&quot;,serif" >&#915;</text><text x="276.75" y="272.50" font-size="7.20" text-anchor="middle" fill="#000" style="font-family:&quot;Liberation Serif&quot;,serif" >M</text><text x="297.23" y="272.50" font-size="7.20" text-anchor="middle" fill="#000" style="font-family:&quot;Liberation Serif&quot;,serif" >K</text><text x="331.60" y="272.50" font-size="7.20" text-anchor="middle" fill="#000" style="font-family:&quot;Liberation Serif&quot;,serif" >&#915;</text>
<g fill="none" stroke="#f0161c" stroke-width="1.05"><path d="M352.00 187.00 C354.52 186.68 361.38 185.70 367.10 185.10 C372.82 184.50 379.92 183.78 386.30 183.40 C392.68 183.02 399.03 182.65 405.40 182.80 C411.77 182.95 417.05 183.60 424.50 184.30 C431.95 185.00 445.83 186.55 450.10 187.00"/><path d="M352.00 187.00 C354.52 186.78 359.80 186.15 367.10 185.70 C374.40 185.25 388.78 184.30 395.80 184.30 C402.82 184.30 405.05 185.70 409.20 185.70 C413.35 185.70 413.88 184.08 420.70 184.30 C427.52 184.52 445.20 186.55 450.10 187.00"/><path d="M352.00 201.40 C354.52 201.40 361.38 202.43 367.10 201.40 C372.82 200.37 381.52 196.45 386.30 195.20 C391.08 193.95 391.98 194.53 395.80 193.90 C399.62 193.27 405.68 191.50 409.20 191.40 C412.72 191.30 412.75 191.63 416.90 193.30 C421.05 194.97 428.57 200.05 434.10 201.40 C439.63 202.75 447.43 201.40 450.10 201.40"/><path d="M352.00 212.60 C354.93 212.70 363.05 212.85 369.60 213.20 C376.15 213.55 385.17 214.80 391.30 214.70 C397.43 214.60 400.98 212.70 406.40 212.60 C411.82 212.50 416.52 214.10 423.80 214.10 C431.08 214.10 445.72 212.85 450.10 212.60"/><path d="M352.00 212.60 C358.55 213.07 381.87 214.43 391.30 215.40 C400.73 216.37 403.55 218.33 408.60 218.40 C413.65 218.47 414.68 216.77 421.60 215.80 C428.52 214.83 445.35 213.13 450.10 212.60"/><path d="M352.00 237.90 C354.22 238.00 361.28 239.37 365.30 238.50 C369.32 237.63 372.48 234.25 376.10 232.70 C379.72 231.15 381.58 229.92 387.00 229.20 C392.42 228.48 402.47 227.92 408.60 228.40 C414.73 228.88 419.12 230.52 423.80 232.10 C428.48 233.68 432.32 236.93 436.70 237.90 C441.08 238.87 447.87 237.90 450.10 237.90"/><path d="M352.00 262.30 C353.13 259.97 356.58 251.72 358.80 248.30 C361.02 244.88 363.13 243.17 365.30 241.80 C367.47 240.43 367.47 240.28 371.80 240.10 C376.13 239.92 385.17 240.05 391.30 240.70 C397.43 241.35 402.10 243.63 408.60 244.00 C415.10 244.37 425.25 242.18 430.30 242.90 C435.35 243.62 435.60 245.07 438.90 248.30 C442.20 251.53 448.23 259.97 450.10 262.30"/><path d="M352.00 262.30 C354.22 259.97 361.28 251.90 365.30 248.30 C369.32 244.70 371.77 242.22 376.10 240.70 C380.43 239.18 385.88 239.82 391.30 239.20 C396.72 238.58 403.18 237.00 408.60 237.00 C414.02 237.00 419.47 238.22 423.80 239.20 C428.13 240.18 431.37 240.85 434.60 242.90 C437.83 244.95 440.62 248.27 443.20 251.50 C445.78 254.73 448.95 260.50 450.10 262.30"/><path d="M352.00 262.30 C354.93 261.42 363.05 258.90 369.60 257.00 C376.15 255.10 384.80 252.07 391.30 250.90 C397.80 249.73 403.18 249.72 408.60 250.00 C414.02 250.28 416.88 250.55 423.80 252.60 C430.72 254.65 445.72 260.68 450.10 262.30"/></g><rect x="352.50" y="159.50" width="98.00" height="105.50" fill="none" stroke="#585858" stroke-width="1"/><line x1="352.50" y1="262.10" x2="450.50" y2="262.10" stroke="#30d830" stroke-width="1.0" stroke-dasharray="1 0.9"/><text x="349.30" y="264.60" font-size="7.60" text-anchor="end" fill="#000" style="font-family:&quot;Liberation Serif&quot;,serif" letter-spacing="-0.35">0</text><line x1="352.50" y1="253.52" x2="354.50" y2="253.52" stroke="#585858" stroke-width="0.8"/><line x1="352.50" y1="244.94" x2="356.50" y2="244.94" stroke="#585858" stroke-width="0.8"/><text x="349.30" y="247.44" font-size="7.60" text-anchor="end" fill="#000" style="font-family:&quot;Liberation Serif&quot;,serif" letter-spacing="-0.35">50</text><line x1="352.50" y1="236.35" x2="354.50" y2="236.35" stroke="#585858" stroke-width="0.8"/><line x1="352.50" y1="227.77" x2="356.50" y2="227.77" stroke="#585858" stroke-width="0.8"/><text x="349.30" y="230.27" font-size="7.60" text-anchor="end" fill="#000" style="font-family:&quot;Liberation Serif&quot;,serif" letter-spacing="-0.35">100</text><line x1="352.50" y1="219.19" x2="354.50" y2="219.19" stroke="#585858" stroke-width="0.8"/><line x1="352.50" y1="210.61" x2="356.50" y2="210.61" stroke="#585858" stroke-width="0.8"/><text x="349.30" y="213.11" font-size="7.60" text-anchor="end" fill="#000" style="font-family:&quot;Liberation Serif&quot;,serif" letter-spacing="-0.35">150</text><line x1="352.50" y1="202.02" x2="354.50" y2="202.02" stroke="#585858" stroke-width="0.8"/><line x1="352.50" y1="193.44" x2="356.50" y2="193.44" stroke="#585858" stroke-width="0.8"/><text x="349.30" y="195.94" font-size="7.60" text-anchor="end" fill="#000" style="font-family:&quot;Liberation Serif&quot;,serif" letter-spacing="-0.35">200</text><line x1="352.50" y1="184.86" x2="354.50" y2="184.86" stroke="#585858" stroke-width="0.8"/><line x1="352.50" y1="176.28" x2="356.50" y2="176.28" stroke="#585858" stroke-width="0.8"/><text x="349.30" y="178.78" font-size="7.60" text-anchor="end" fill="#000" style="font-family:&quot;Liberation Serif&quot;,serif" letter-spacing="-0.35">250</text><line x1="352.50" y1="167.69" x2="354.50" y2="167.69" stroke="#585858" stroke-width="0.8"/><text x="349.30" y="161.61" font-size="7.60" text-anchor="end" fill="#000" style="font-family:&quot;Liberation Serif&quot;,serif" letter-spacing="-0.35">300</text><text x="359.90" y="169.30" font-size="10.00" text-anchor="start" fill="#000" style="font-family:&quot;Liberation Serif&quot;,serif" >Na-AgSe</text><text x="353.50" y="272.50" font-size="7.20" text-anchor="middle" fill="#000" style="font-family:&quot;Liberation Serif&quot;,serif" >&#915;</text><text x="394.75" y="272.50" font-size="7.20" text-anchor="middle" fill="#000" style="font-family:&quot;Liberation Serif&quot;,serif" >M</text><text x="415.23" y="272.50" font-size="7.20" text-anchor="middle" fill="#000" style="font-family:&quot;Liberation Serif&quot;,serif" >K</text><text x="449.60" y="272.50" font-size="7.20" text-anchor="middle" fill="#000" style="font-family:&quot;Liberation Serif&quot;,serif" >&#915;</text>
<g fill="none" stroke="#f0161c" stroke-width="1.05"><path d="M469.80 183.40 C471.17 182.72 474.63 180.88 478.00 179.30 C481.37 177.72 486.52 175.18 490.00 173.90 C493.48 172.62 495.95 172.07 498.90 171.60 C501.85 171.13 504.75 171.28 507.70 171.10 C510.65 170.92 513.63 170.67 516.60 170.50 C519.57 170.33 522.55 170.10 525.50 170.10 C528.45 170.10 531.88 170.25 534.30 170.50 C536.72 170.75 537.35 170.72 540.00 171.60 C542.65 172.48 546.90 174.20 550.20 175.80 C553.50 177.40 556.93 179.93 559.80 181.20 C562.67 182.47 566.13 183.03 567.40 183.40"/><path d="M469.80 183.40 C471.17 183.00 474.63 182.15 478.00 181.00 C481.37 179.85 486.52 177.75 490.00 176.50 C493.48 175.25 495.95 174.17 498.90 173.50 C501.85 172.83 504.75 172.77 507.70 172.50 C510.65 172.23 513.63 172.00 516.60 171.90 C519.57 171.80 522.55 171.80 525.50 171.90 C528.45 172.00 531.88 172.17 534.30 172.50 C536.72 172.83 537.35 172.95 540.00 173.90 C542.65 174.85 546.90 176.78 550.20 178.20 C553.50 179.62 556.93 181.53 559.80 182.40 C562.67 183.27 566.13 183.23 567.40 183.40"/><path d="M469.80 183.40 C471.50 183.43 476.63 183.63 480.00 183.60 C483.37 183.57 486.42 183.92 490.00 183.20 C493.58 182.48 497.80 179.95 501.50 179.30 C505.20 178.65 508.20 179.05 512.20 179.30 C516.20 179.55 520.87 180.38 525.50 180.80 C530.13 181.22 535.08 181.50 540.00 181.80 C544.92 182.10 550.43 182.33 555.00 182.60 C559.57 182.87 565.33 183.27 567.40 183.40"/><path d="M469.80 202.90 C473.95 202.73 487.37 202.07 494.70 201.90 C502.03 201.73 508.70 201.98 513.80 201.90 C518.90 201.82 521.78 201.17 525.30 201.40 C528.82 201.63 531.07 202.83 534.90 203.30 C538.73 203.77 542.88 204.27 548.30 204.20 C553.72 204.13 564.22 203.12 567.40 202.90"/><path d="M469.80 202.90 C472.35 203.43 479.35 205.25 485.10 206.10 C490.85 206.95 499.18 208.00 504.30 208.00 C509.42 208.00 512.62 206.73 515.80 206.10 C518.98 205.47 520.22 204.63 523.40 204.20 C526.58 203.77 530.43 203.62 534.90 203.50 C539.37 203.38 544.78 203.60 550.20 203.50 C555.62 203.40 564.53 203.00 567.40 202.90"/><path d="M469.80 218.00 C473.13 218.37 483.93 220.32 489.80 220.20 C495.67 220.08 498.87 217.60 505.00 217.30 C511.13 217.00 520.12 217.75 526.60 218.40 C533.08 219.05 538.85 221.20 543.90 221.20 C548.95 221.20 552.98 219.00 556.90 218.40 C560.82 217.80 565.65 217.73 567.40 217.60"/><path d="M469.80 263.10 C471.33 259.92 476.03 249.35 479.00 244.00 C481.97 238.65 485.43 233.97 487.60 231.00 C489.77 228.03 489.47 226.93 492.00 226.20 C494.53 225.47 498.83 226.10 502.80 226.60 C506.77 227.10 511.83 228.47 515.80 229.20 C519.77 229.93 523.00 230.42 526.60 231.00 C530.20 231.58 534.15 231.62 537.40 232.70 C540.65 233.78 543.22 235.27 546.10 237.50 C548.98 239.73 552.18 243.40 554.70 246.10 C557.22 248.80 559.08 250.87 561.20 253.70 C563.32 256.53 566.37 261.53 567.40 263.10"/><path d="M469.80 263.10 C472.05 259.92 479.60 248.45 483.30 244.00 C487.00 239.55 488.38 238.40 492.00 236.40 C495.62 234.40 500.32 233.52 505.00 232.00 C509.68 230.48 514.70 228.12 520.10 227.30 C525.50 226.48 533.62 227.38 537.40 227.10 C541.18 226.82 541.17 225.32 542.80 225.60 C544.43 225.88 545.57 227.18 547.20 228.80 C548.83 230.42 550.62 232.42 552.60 235.30 C554.58 238.18 556.63 241.47 559.10 246.10 C561.57 250.73 566.02 260.27 567.40 263.10"/><path d="M469.80 263.10 C472.77 261.53 482.10 256.72 487.60 253.70 C493.10 250.68 496.30 246.80 502.80 245.00 C509.30 243.20 520.83 242.90 526.60 242.90 C532.37 242.90 533.07 243.57 537.40 245.00 C541.73 246.43 547.60 248.48 552.60 251.50 C557.60 254.52 564.93 261.17 567.40 263.10"/></g><rect x="469.50" y="159.50" width="98.00" height="106.00" fill="none" stroke="#585858" stroke-width="1"/><line x1="469.50" y1="263.10" x2="567.50" y2="263.10" stroke="#30d830" stroke-width="1.0" stroke-dasharray="1 0.9"/><text x="466.30" y="265.60" font-size="7.60" text-anchor="end" fill="#000" style="font-family:&quot;Liberation Serif&quot;,serif" letter-spacing="-0.35">0</text><line x1="469.50" y1="250.11" x2="471.50" y2="250.11" stroke="#585858" stroke-width="0.8"/><line x1="469.50" y1="237.13" x2="473.50" y2="237.13" stroke="#585858" stroke-width="0.8"/><text x="466.30" y="239.63" font-size="7.60" text-anchor="end" fill="#000" style="font-family:&quot;Liberation Serif&quot;,serif" letter-spacing="-0.35">50</text><line x1="469.50" y1="224.14" x2="471.50" y2="224.14" stroke="#585858" stroke-width="0.8"/><line x1="469.50" y1="211.15" x2="473.50" y2="211.15" stroke="#585858" stroke-width="0.8"/><text x="466.30" y="213.65" font-size="7.60" text-anchor="end" fill="#000" style="font-family:&quot;Liberation Serif&quot;,serif" letter-spacing="-0.35">100</text><line x1="469.50" y1="198.16" x2="471.50" y2="198.16" stroke="#585858" stroke-width="0.8"/><line x1="469.50" y1="185.18" x2="473.50" y2="185.18" stroke="#585858" stroke-width="0.8"/><text x="466.30" y="187.68" font-size="7.60" text-anchor="end" fill="#000" style="font-family:&quot;Liberation Serif&quot;,serif" letter-spacing="-0.35">150</text><line x1="469.50" y1="172.19" x2="471.50" y2="172.19" stroke="#585858" stroke-width="0.8"/><text x="466.30" y="161.70" font-size="7.60" text-anchor="end" fill="#000" style="font-family:&quot;Liberation Serif&quot;,serif" letter-spacing="-0.35">200</text><text x="474.60" y="168.90" font-size="10.00" text-anchor="start" fill="#000" style="font-family:&quot;Liberation Serif&quot;,serif" >K-AgSe</text><text x="470.50" y="272.50" font-size="7.20" text-anchor="middle" fill="#000" style="font-family:&quot;Liberation Serif&quot;,serif" >&#915;</text><text x="511.75" y="272.50" font-size="7.20" text-anchor="middle" fill="#000" style="font-family:&quot;Liberation Serif&quot;,serif" >M</text><text x="532.23" y="272.50" font-size="7.20" text-anchor="middle" fill="#000" style="font-family:&quot;Liberation Serif&quot;,serif" >K</text><text x="566.60" y="272.50" font-size="7.20" text-anchor="middle" fill="#000" style="font-family:&quot;Liberation Serif&quot;,serif" >&#915;</text>
<text transform="translate(217.5,66.2) rotate(-90)" font-size="8.9" text-anchor="middle" style="font-family:&quot;Liberation Serif&quot;,serif">Frequency (cm<tspan font-size="5.5" dy="-3">-1</tspan><tspan dy="3">)</tspan></text>
<text transform="translate(215.7,216.6) rotate(-90)" font-size="9.5" text-anchor="middle" style="font-family:&quot;Liberation Serif&quot;,serif">Frequency (cm<tspan font-size="5.5" dy="-3">-1</tspan><tspan dy="3">)</tspan></text>
<clipPath id="cp0"><rect x="581.10" y="33.20" width="39.60" height="110.30"/></clipPath><rect x="581.10" y="33.20" width="39.60" height="110.30" fill="url(#panel)"/><g clip-path="url(#cp0)"><g filter="url(#bl2)"><ellipse cx="589.00" cy="86.00" rx="7.50" ry="18.50" fill="#74a4ff" opacity="0.6"/><ellipse cx="594.50" cy="88.00" rx="4.20" ry="8.00" fill="#40d0ff" opacity="0.8"/></g><g filter="url(#bl1)"><ellipse cx="588.00" cy="86.00" rx="5.20" ry="14.40" fill="#3ad8f2"/><ellipse cx="588.00" cy="86.00" rx="4.60" ry="12.90" fill="#58e070"/><ellipse cx="588.00" cy="86.00" rx="4.05" ry="11.60" fill="#e8d83c"/><ellipse cx="588.00" cy="86.00" rx="3.50" ry="10.30" fill="#f25a5a"/></g><g filter="url(#bl2)"><ellipse cx="608.60" cy="86.00" rx="7.50" ry="18.50" fill="#74a4ff" opacity="0.6"/><ellipse cx="614.10" cy="88.00" rx="4.20" ry="8.00" fill="#40d0ff" opacity="0.8"/></g><g filter="url(#bl1)"><ellipse cx="607.60" cy="86.00" rx="5.20" ry="14.40" fill="#3ad8f2"/><ellipse cx="607.60" cy="86.00" rx="4.60" ry="12.90" fill="#58e070"/><ellipse cx="607.60" cy="86.00" rx="4.05" ry="11.60" fill="#e8d83c"/><ellipse cx="607.60" cy="86.00" rx="3.50" ry="10.30" fill="#f25a5a"/></g><g filter="url(#bl2)"><ellipse cx="628.20" cy="86.00" rx="7.50" ry="18.50" fill="#74a4ff" opacity="0.6"/><ellipse cx="633.70" cy="88.00" rx="4.20" ry="8.00" fill="#40d0ff" opacity="0.8"/></g><g filter="url(#bl1)"><ellipse cx="627.20" cy="86.00" rx="5.20" ry="14.40" fill="#3ad8f2"/><ellipse cx="627.20" cy="86.00" rx="4.60" ry="12.90" fill="#58e070"/><ellipse cx="627.20" cy="86.00" rx="4.05" ry="11.60" fill="#e8d83c"/><ellipse cx="627.20" cy="86.00" rx="3.50" ry="10.30" fill="#f25a5a"/></g><line x1="581.20" y1="80.00" x2="584.60" y2="82.80" stroke="#b0d890" stroke-width="1.30"/><line x1="584.60" y1="82.80" x2="588.00" y2="85.60" stroke="#92dd2c" stroke-width="1.30"/><line x1="588.00" y1="85.60" x2="594.45" y2="82.80" stroke="#92dd2c" stroke-width="1.30"/><line x1="594.45" y1="82.80" x2="600.90" y2="80.00" stroke="#b0d890" stroke-width="1.30"/><line x1="588.00" y1="85.60" x2="591.15" y2="85.80" stroke="#92dd2c" stroke-width="1.30"/><line x1="591.15" y1="85.80" x2="594.30" y2="86.00" stroke="#2e52d4" stroke-width="1.30"/><line x1="594.30" y1="86.00" x2="600.90" y2="85.80" stroke="#2e52d4" stroke-width="1.30"/><line x1="600.90" y1="85.80" x2="607.50" y2="85.60" stroke="#92dd2c" stroke-width="1.30"/><line x1="600.90" y1="80.00" x2="604.20" y2="82.80" stroke="#b0d890" stroke-width="1.30"/><line x1="604.20" y1="82.80" x2="607.50" y2="85.60" stroke="#92dd2c" stroke-width="1.30"/><line x1="607.50" y1="85.60" x2="610.75" y2="85.80" stroke="#92dd2c" stroke-width="1.30"/><line x1="610.75" y1="85.80" x2="614.00" y2="86.00" stroke="#2e52d4" stroke-width="1.30"/></g><circle cx="594.30" cy="86.00" r="2.85" fill="url(#gB)"/><circle cx="614.00" cy="86.00" r="2.85" fill="url(#gB)"/><circle cx="588.00" cy="85.60" r="1.90" fill="url(#gG)"/><circle cx="607.50" cy="85.60" r="1.90" fill="url(#gG)"/><circle cx="581.20" cy="80.00" r="3.20" fill="url(#gL)"/><circle cx="600.90" cy="80.00" r="3.20" fill="url(#gL)"/><text x="585.00" y="41.20" font-size="9.90" text-anchor="start" fill="#000" style="font-family:&quot;Liberation Serif&quot;,serif" >Li-CuSe</text>
<clipPath id="cp1"><rect x="625.80" y="33.30" width="40.00" height="110.20"/></clipPath><rect x="625.80" y="33.30" width="40.00" height="110.20" fill="url(#panel)"/><g clip-path="url(#cp1)"><g filter="url(#bl2)"><ellipse cx="634.30" cy="87.00" rx="7.50" ry="18.50" fill="#74a4ff" opacity="0.6"/><ellipse cx="639.80" cy="89.00" rx="4.20" ry="8.00" fill="#40d0ff" opacity="0.8"/></g><g filter="url(#bl1)"><ellipse cx="633.30" cy="87.00" rx="5.20" ry="14.40" fill="#3ad8f2"/><ellipse cx="633.30" cy="87.00" rx="4.60" ry="12.90" fill="#58e070"/><ellipse cx="633.30" cy="87.00" rx="4.05" ry="11.60" fill="#e8d83c"/><ellipse cx="633.30" cy="87.00" rx="3.50" ry="10.30" fill="#f25a5a"/></g><g filter="url(#bl2)"><ellipse cx="653.40" cy="87.00" rx="7.50" ry="18.50" fill="#74a4ff" opacity="0.6"/><ellipse cx="658.90" cy="89.00" rx="4.20" ry="8.00" fill="#40d0ff" opacity="0.8"/></g><g filter="url(#bl1)"><ellipse cx="652.40" cy="87.00" rx="5.20" ry="14.40" fill="#3ad8f2"/><ellipse cx="652.40" cy="87.00" rx="4.60" ry="12.90" fill="#58e070"/><ellipse cx="652.40" cy="87.00" rx="4.05" ry="11.60" fill="#e8d83c"/><ellipse cx="652.40" cy="87.00" rx="3.50" ry="10.30" fill="#f25a5a"/></g><g filter="url(#bl2)"><ellipse cx="672.50" cy="87.00" rx="7.50" ry="18.50" fill="#74a4ff" opacity="0.6"/><ellipse cx="678.00" cy="89.00" rx="4.20" ry="8.00" fill="#40d0ff" opacity="0.8"/></g><g filter="url(#bl1)"><ellipse cx="671.50" cy="87.00" rx="5.20" ry="14.40" fill="#3ad8f2"/><ellipse cx="671.50" cy="87.00" rx="4.60" ry="12.90" fill="#58e070"/><ellipse cx="671.50" cy="87.00" rx="4.05" ry="11.60" fill="#e8d83c"/><ellipse cx="671.50" cy="87.00" rx="3.50" ry="10.30" fill="#f25a5a"/></g><line x1="625.80" y1="78.30" x2="629.35" y2="82.75" stroke="#e8c840" stroke-width="1.30"/><line x1="629.35" y1="82.75" x2="632.90" y2="87.20" stroke="#92dd2c" stroke-width="1.30"/><line x1="632.90" y1="87.20" x2="639.15" y2="82.75" stroke="#92dd2c" stroke-width="1.30"/><line x1="639.15" y1="82.75" x2="645.40" y2="78.30" stroke="#e8c840" stroke-width="1.30"/><line x1="632.90" y1="87.20" x2="636.25" y2="87.50" stroke="#92dd2c" stroke-width="1.30"/><line x1="636.25" y1="87.50" x2="639.60" y2="87.80" stroke="#2e52d4" stroke-width="1.30"/><line x1="639.60" y1="87.80" x2="645.95" y2="87.50" stroke="#2e52d4" stroke-width="1.30"/><line x1="645.95" y1="87.50" x2="652.30" y2="87.20" stroke="#92dd2c" stroke-width="1.30"/><line x1="645.40" y1="78.30" x2="648.85" y2="82.75" stroke="#e8c840" stroke-width="1.30"/><line x1="648.85" y1="82.75" x2="652.30" y2="87.20" stroke="#92dd2c" stroke-width="1.30"/><line x1="652.30" y1="87.20" x2="655.65" y2="87.50" stroke="#92dd2c" stroke-width="1.30"/><line x1="655.65" y1="87.50" x2="659.00" y2="87.80" stroke="#2e52d4" stroke-width="1.30"/></g><circle cx="639.60" cy="87.80" r="2.85" fill="url(#gB)"/><circle cx="659.00" cy="87.80" r="2.85" fill="url(#gB)"/><circle cx="632.90" cy="87.20" r="1.90" fill="url(#gG)"/><circle cx="652.30" cy="87.20" r="1.90" fill="url(#gG)"/><circle cx="625.80" cy="78.30" r="3.70" fill="url(#gY)"/><circle cx="645.40" cy="78.30" r="3.70" fill="url(#gY)"/><text x="627.60" y="41.80" font-size="9.90" text-anchor="start" fill="#000" style="font-family:&quot;Liberation Serif&quot;,serif" >Na-CuSe</text>
<clipPath id="cp2"><rect x="581.00" y="158.00" width="38.60" height="98.30"/></clipPath><rect x="581.00" y="158.00" width="38.60" height="98.30" fill="url(#panel)"/><g clip-path="url(#cp2)"><g filter="url(#bl2)"><ellipse cx="588.90" cy="205.00" rx="6.60" ry="15.91" fill="#74a4ff" opacity="0.6"/><ellipse cx="594.40" cy="207.00" rx="3.70" ry="6.88" fill="#40d0ff" opacity="0.8"/></g><g filter="url(#bl1)"><ellipse cx="587.90" cy="205.00" rx="4.58" ry="12.38" fill="#3ad8f2"/><ellipse cx="587.90" cy="205.00" rx="4.05" ry="11.09" fill="#58e070"/><ellipse cx="587.90" cy="205.00" rx="3.56" ry="9.98" fill="#e8d83c"/><ellipse cx="587.90" cy="205.00" rx="3.08" ry="8.86" fill="#f25a5a"/></g><g filter="url(#bl2)"><ellipse cx="607.60" cy="205.00" rx="6.60" ry="15.91" fill="#74a4ff" opacity="0.6"/><ellipse cx="613.10" cy="207.00" rx="3.70" ry="6.88" fill="#40d0ff" opacity="0.8"/></g><g filter="url(#bl1)"><ellipse cx="606.60" cy="205.00" rx="4.58" ry="12.38" fill="#3ad8f2"/><ellipse cx="606.60" cy="205.00" rx="4.05" ry="11.09" fill="#58e070"/><ellipse cx="606.60" cy="205.00" rx="3.56" ry="9.98" fill="#e8d83c"/><ellipse cx="606.60" cy="205.00" rx="3.08" ry="8.86" fill="#f25a5a"/></g><g filter="url(#bl2)"><ellipse cx="626.30" cy="205.00" rx="6.60" ry="15.91" fill="#74a4ff" opacity="0.6"/><ellipse cx="631.80" cy="207.00" rx="3.70" ry="6.88" fill="#40d0ff" opacity="0.8"/></g><g filter="url(#bl1)"><ellipse cx="625.30" cy="205.00" rx="4.58" ry="12.38" fill="#3ad8f2"/><ellipse cx="625.30" cy="205.00" rx="4.05" ry="11.09" fill="#58e070"/><ellipse cx="625.30" cy="205.00" rx="3.56" ry="9.98" fill="#e8d83c"/><ellipse cx="625.30" cy="205.00" rx="3.08" ry="8.86" fill="#f25a5a"/></g><line x1="580.20" y1="198.40" x2="583.60" y2="201.50" stroke="#e8c840" stroke-width="1.30"/><line x1="583.60" y1="201.50" x2="587.00" y2="204.60" stroke="#92dd2c" stroke-width="1.30"/><line x1="587.00" y1="204.60" x2="593.40" y2="201.50" stroke="#92dd2c" stroke-width="1.30"/><line x1="593.40" y1="201.50" x2="599.80" y2="198.40" stroke="#e8c840" stroke-width="1.30"/><line x1="587.00" y1="204.60" x2="590.50" y2="205.60" stroke="#92dd2c" stroke-width="1.30"/><line x1="590.50" y1="205.60" x2="594.00" y2="206.60" stroke="#b1b1b4" stroke-width="1.30"/><line x1="594.00" y1="206.60" x2="600.00" y2="205.60" stroke="#b1b1b4" stroke-width="1.30"/><line x1="600.00" y1="205.60" x2="606.00" y2="204.60" stroke="#92dd2c" stroke-width="1.30"/><line x1="599.80" y1="198.40" x2="602.90" y2="201.50" stroke="#e8c840" stroke-width="1.30"/><line x1="602.90" y1="201.50" x2="606.00" y2="204.60" stroke="#92dd2c" stroke-width="1.30"/><line x1="606.00" y1="204.60" x2="609.35" y2="205.60" stroke="#92dd2c" stroke-width="1.30"/><line x1="609.35" y1="205.60" x2="612.70" y2="206.60" stroke="#b1b1b4" stroke-width="1.30"/></g><circle cx="594.00" cy="206.60" r="2.70" fill="url(#gA)"/><circle cx="612.70" cy="206.60" r="2.70" fill="url(#gA)"/><circle cx="587.00" cy="204.60" r="1.90" fill="url(#gG)"/><circle cx="606.00" cy="204.60" r="1.90" fill="url(#gG)"/><circle cx="580.20" cy="198.40" r="3.70" fill="url(#gY)"/><circle cx="599.80" cy="198.40" r="3.70" fill="url(#gY)"/><text x="582.50" y="170.00" font-size="9.90" text-anchor="start" fill="#000" style="font-family:&quot;Liberation Serif&quot;,serif" >Na-AgSe</text>
<clipPath id="cp3"><rect x="625.00" y="158.00" width="39.30" height="97.80"/></clipPath><rect x="625.00" y="158.00" width="39.30" height="97.80" fill="url(#panel)"/><g clip-path="url(#cp3)"><g filter="url(#bl2)"><ellipse cx="633.40" cy="205.00" rx="6.60" ry="15.91" fill="#74a4ff" opacity="0.6"/><ellipse cx="638.90" cy="207.00" rx="3.70" ry="6.88" fill="#40d0ff" opacity="0.8"/></g><g filter="url(#bl1)"><ellipse cx="632.40" cy="205.00" rx="4.58" ry="12.38" fill="#3ad8f2"/><ellipse cx="632.40" cy="205.00" rx="4.05" ry="11.09" fill="#58e070"/><ellipse cx="632.40" cy="205.00" rx="3.56" ry="9.98" fill="#e8d83c"/><ellipse cx="632.40" cy="205.00" rx="3.08" ry="8.86" fill="#f25a5a"/></g><g filter="url(#bl2)"><ellipse cx="652.40" cy="205.00" rx="6.60" ry="15.91" fill="#74a4ff" opacity="0.6"/><ellipse cx="657.90" cy="207.00" rx="3.70" ry="6.88" fill="#40d0ff" opacity="0.8"/></g><g filter="url(#bl1)"><ellipse cx="651.40" cy="205.00" rx="4.58" ry="12.38" fill="#3ad8f2"/><ellipse cx="651.40" cy="205.00" rx="4.05" ry="11.09" fill="#58e070"/><ellipse cx="651.40" cy="205.00" rx="3.56" ry="9.98" fill="#e8d83c"/><ellipse cx="651.40" cy="205.00" rx="3.08" ry="8.86" fill="#f25a5a"/></g><g filter="url(#bl2)"><ellipse cx="668.50" cy="205.00" rx="6.60" ry="15.91" fill="#74a4ff" opacity="0.6"/><ellipse cx="674.00" cy="207.00" rx="3.70" ry="6.88" fill="#40d0ff" opacity="0.8"/></g><g filter="url(#bl1)"><ellipse cx="667.50" cy="205.00" rx="4.58" ry="12.38" fill="#3ad8f2"/><ellipse cx="667.50" cy="205.00" rx="4.05" ry="11.09" fill="#58e070"/><ellipse cx="667.50" cy="205.00" rx="3.56" ry="9.98" fill="#e8d83c"/><ellipse cx="667.50" cy="205.00" rx="3.08" ry="8.86" fill="#f25a5a"/></g><line x1="625.30" y1="196.60" x2="628.45" y2="201.20" stroke="#9a30b8" stroke-width="1.30"/><line x1="628.45" y1="201.20" x2="631.60" y2="205.80" stroke="#92dd2c" stroke-width="1.30"/><line x1="631.60" y1="205.80" x2="637.90" y2="201.20" stroke="#92dd2c" stroke-width="1.30"/><line x1="637.90" y1="201.20" x2="644.20" y2="196.60" stroke="#9a30b8" stroke-width="1.30"/><line x1="631.60" y1="205.80" x2="634.95" y2="206.70" stroke="#92dd2c" stroke-width="1.30"/><line x1="634.95" y1="206.70" x2="638.30" y2="207.60" stroke="#b1b1b4" stroke-width="1.30"/><line x1="638.30" y1="207.60" x2="644.55" y2="206.70" stroke="#b1b1b4" stroke-width="1.30"/><line x1="644.55" y1="206.70" x2="650.80" y2="205.80" stroke="#92dd2c" stroke-width="1.30"/><line x1="644.20" y1="196.60" x2="647.50" y2="201.20" stroke="#9a30b8" stroke-width="1.30"/><line x1="647.50" y1="201.20" x2="650.80" y2="205.80" stroke="#92dd2c" stroke-width="1.30"/><line x1="650.80" y1="205.80" x2="654.00" y2="206.70" stroke="#92dd2c" stroke-width="1.30"/><line x1="654.00" y1="206.70" x2="657.20" y2="207.60" stroke="#b1b1b4" stroke-width="1.30"/></g><circle cx="638.30" cy="207.60" r="2.70" fill="url(#gA)"/><circle cx="657.20" cy="207.60" r="2.70" fill="url(#gA)"/><circle cx="631.60" cy="205.80" r="1.90" fill="url(#gG)"/><circle cx="650.80" cy="205.80" r="1.90" fill="url(#gG)"/><circle cx="625.30" cy="196.60" r="4.00" fill="url(#gP)"/><circle cx="644.20" cy="196.60" r="4.00" fill="url(#gP)"/><text x="628.00" y="170.00" font-size="9.90" text-anchor="start" fill="#000" style="font-family:&quot;Liberation Serif&quot;,serif" >K-AgSe</text></svg></body></html>
